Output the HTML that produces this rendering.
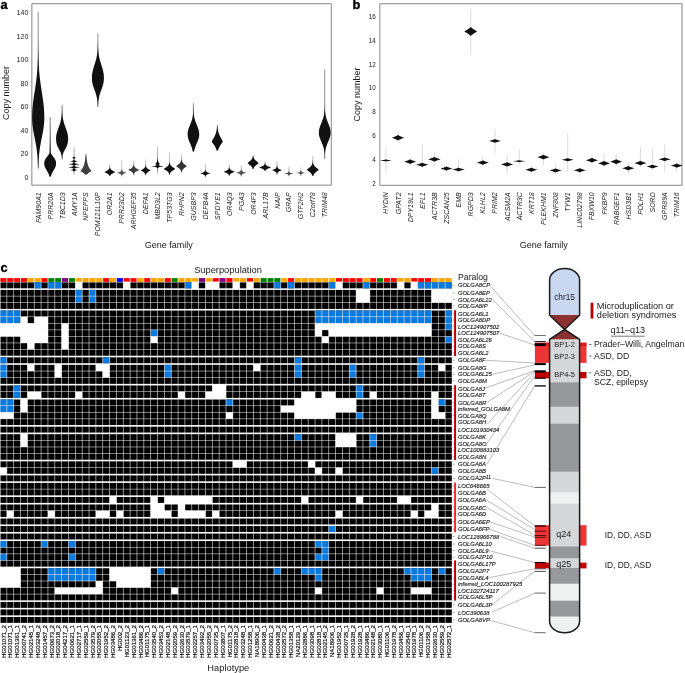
<!DOCTYPE html>
<html><head><meta charset="utf-8"><title>Figure</title>
<style>html,body{margin:0;padding:0;background:#fff}svg{display:block}svg text{font-family:"Liberation Sans",sans-serif}</style>
</head><body>
<svg width="685" height="673" viewBox="0 0 685 673" font-family='"Liberation Sans", sans-serif'>
<rect x="31.9" y="3.8" width="299.3" height="181.3" fill="none" stroke="#555" stroke-width="0.7"/>
<text x="28.3" y="179.8" font-size="7" text-anchor="end" fill="#1a1a1a">0</text>
<text x="28.3" y="156.2" font-size="7" text-anchor="end" fill="#1a1a1a">20</text>
<text x="28.3" y="132.7" font-size="7" text-anchor="end" fill="#1a1a1a">40</text>
<text x="28.3" y="109.2" font-size="7" text-anchor="end" fill="#1a1a1a">60</text>
<text x="28.3" y="85.6" font-size="7" text-anchor="end" fill="#1a1a1a">80</text>
<text x="28.3" y="62.1" font-size="7" text-anchor="end" fill="#1a1a1a">100</text>
<text x="28.3" y="38.5" font-size="7" text-anchor="end" fill="#1a1a1a">120</text>
<text x="28.3" y="15.0" font-size="7" text-anchor="end" fill="#1a1a1a">140</text>
<text transform="translate(9.3,93) rotate(-90)" font-size="9" text-anchor="middle" fill="#1a1a1a">Copy number</text>
<text x="168.8" y="248" font-size="9" text-anchor="middle" fill="#1a1a1a">Gene family</text>
<text x="0.4" y="9.1" font-size="12.8" font-weight="bold" fill="#000" stroke="#000" stroke-width="0.35">a</text>
<line x1="38.20" y1="11.80" x2="38.20" y2="168.60" stroke="#333" stroke-width="0.55"/>
<path d="M38.20 11.80 L38.20 14.41 L38.20 17.03 L38.20 19.64 L38.20 22.25 L38.20 24.87 L38.20 27.48 L38.19 30.09 L38.19 32.71 L38.19 35.32 L38.18 37.93 L38.17 40.55 L38.15 43.16 L38.13 45.77 L38.11 48.39 L38.07 51.00 L38.03 53.61 L37.97 56.23 L37.89 58.84 L37.79 61.45 L37.67 64.07 L37.53 66.68 L37.35 69.29 L37.15 71.91 L36.91 74.52 L36.64 77.13 L36.34 79.75 L36.00 82.36 L35.64 84.97 L35.26 87.59 L34.86 90.20 L34.46 92.81 L34.06 95.43 L33.67 98.04 L33.31 100.65 L32.98 103.27 L32.69 105.88 L32.46 108.49 L32.28 111.11 L32.16 113.72 L32.11 116.33 L32.10 117.70 L32.11 118.95 L32.20 121.56 L32.40 124.17 L32.69 126.79 L33.07 129.40 L33.51 132.01 L34.01 134.63 L34.53 137.24 L35.05 139.85 L35.55 142.47 L36.02 145.08 L36.45 147.69 L36.82 150.31 L37.14 152.92 L37.40 155.53 L37.61 158.15 L37.78 160.76 L37.90 163.37 L37.99 165.99 L38.06 168.60 L38.34 168.60 L38.41 165.99 L38.50 163.37 L38.62 160.76 L38.79 158.15 L39.00 155.53 L39.26 152.92 L39.58 150.31 L39.95 147.69 L40.38 145.08 L40.85 142.47 L41.35 139.85 L41.87 137.24 L42.39 134.63 L42.89 132.01 L43.33 129.40 L43.71 126.79 L44.00 124.17 L44.20 121.56 L44.29 118.95 L44.30 117.70 L44.29 116.33 L44.24 113.72 L44.12 111.11 L43.94 108.49 L43.71 105.88 L43.42 103.27 L43.09 100.65 L42.73 98.04 L42.34 95.43 L41.94 92.81 L41.54 90.20 L41.14 87.59 L40.76 84.97 L40.40 82.36 L40.06 79.75 L39.76 77.13 L39.49 74.52 L39.25 71.91 L39.05 69.29 L38.87 66.68 L38.73 64.07 L38.61 61.45 L38.51 58.84 L38.43 56.23 L38.37 53.61 L38.33 51.00 L38.29 48.39 L38.27 45.77 L38.25 43.16 L38.23 40.55 L38.22 37.93 L38.21 35.32 L38.21 32.71 L38.21 30.09 L38.20 27.48 L38.20 24.87 L38.20 22.25 L38.20 19.64 L38.20 17.03 L38.20 14.41 L38.20 11.80Z" fill="#111" opacity="1.00"/>
<text transform="translate(40.70,192.3) rotate(-90)" font-size="7" font-style="italic" text-anchor="end" fill="#1a1a1a">FAM90A1</text>
<line x1="50.14" y1="117.10" x2="50.14" y2="176.60" stroke="#333" stroke-width="0.55"/>
<path d="M50.10 117.10 L50.09 118.09 L50.09 119.08 L50.08 120.07 L50.08 121.07 L50.08 122.06 L50.07 123.05 L50.07 124.04 L50.06 125.03 L50.05 126.02 L50.05 127.02 L50.04 128.01 L50.03 129.00 L50.03 129.99 L50.02 130.98 L50.01 131.97 L50.00 132.97 L49.99 133.96 L49.98 134.95 L49.97 135.94 L49.95 136.93 L49.94 137.92 L49.93 138.92 L49.91 139.91 L49.89 140.90 L49.88 141.89 L49.86 142.88 L49.84 143.88 L49.81 144.87 L49.79 145.86 L49.76 146.85 L49.74 147.84 L49.71 148.83 L49.67 149.82 L49.64 150.82 L49.60 151.81 L49.56 152.80 L49.14 153.79 L48.55 154.78 L47.84 155.77 L47.05 156.77 L46.26 157.76 L45.57 158.75 L45.01 159.74 L44.61 160.73 L44.38 161.72 L44.27 162.72 L44.24 163.71 L44.24 164.20 L44.27 164.70 L44.46 165.69 L44.79 166.68 L45.25 167.68 L45.77 168.67 L46.34 169.66 L46.92 170.65 L47.47 171.64 L47.99 172.63 L48.44 173.62 L48.83 174.62 L49.15 175.61 L49.41 176.60 L50.87 176.60 L51.13 175.61 L51.45 174.62 L51.84 173.62 L52.29 172.63 L52.81 171.64 L53.36 170.65 L53.94 169.66 L54.51 168.67 L55.03 167.68 L55.49 166.68 L55.82 165.69 L56.01 164.70 L56.04 164.20 L56.04 163.71 L56.01 162.72 L55.90 161.72 L55.67 160.73 L55.27 159.74 L54.71 158.75 L54.02 157.76 L53.23 156.77 L52.44 155.77 L51.73 154.78 L51.14 153.79 L50.72 152.80 L50.68 151.81 L50.64 150.82 L50.61 149.82 L50.57 148.83 L50.54 147.84 L50.52 146.85 L50.49 145.86 L50.47 144.87 L50.44 143.88 L50.42 142.88 L50.40 141.89 L50.39 140.90 L50.37 139.91 L50.35 138.92 L50.34 137.92 L50.33 136.93 L50.31 135.94 L50.30 134.95 L50.29 133.96 L50.28 132.97 L50.27 131.97 L50.26 130.98 L50.25 129.99 L50.25 129.00 L50.24 128.01 L50.23 127.02 L50.23 126.02 L50.22 125.03 L50.21 124.04 L50.21 123.05 L50.20 122.06 L50.20 121.07 L50.20 120.07 L50.19 119.08 L50.19 118.09 L50.18 117.10Z" fill="#111" opacity="1.00"/>
<text transform="translate(52.64,192.3) rotate(-90)" font-size="7" font-style="italic" text-anchor="end" fill="#1a1a1a">PRR20A</text>
<line x1="62.08" y1="104.80" x2="62.08" y2="159.40" stroke="#333" stroke-width="0.55"/>
<path d="M62.06 104.80 L62.05 105.71 L62.04 106.62 L62.03 107.53 L62.01 108.44 L61.99 109.35 L61.96 110.26 L61.92 111.17 L61.88 112.08 L61.83 112.99 L61.76 113.90 L61.68 114.81 L61.59 115.72 L61.48 116.63 L61.36 117.54 L61.21 118.45 L61.04 119.36 L60.85 120.27 L60.64 121.18 L60.40 122.09 L60.15 123.00 L59.87 123.91 L59.57 124.82 L59.26 125.73 L58.94 126.64 L58.61 127.55 L58.27 128.46 L57.94 129.37 L57.62 130.28 L57.31 131.19 L57.03 132.10 L56.77 133.01 L56.55 133.92 L56.36 134.83 L56.22 135.74 L56.13 136.65 L56.08 137.56 L56.08 137.90 L56.08 138.47 L56.09 139.38 L56.12 140.29 L56.18 141.20 L56.28 142.11 L56.44 143.02 L56.65 143.93 L56.93 144.84 L57.27 145.75 L57.66 146.66 L58.10 147.57 L58.58 148.48 L59.07 149.39 L59.56 150.30 L60.03 151.21 L60.46 152.12 L60.84 153.03 L61.16 153.94 L61.43 154.85 L61.63 155.76 L61.78 156.67 L61.89 157.58 L61.97 158.49 L62.01 159.40 L62.15 159.40 L62.19 158.49 L62.27 157.58 L62.38 156.67 L62.53 155.76 L62.73 154.85 L63.00 153.94 L63.32 153.03 L63.70 152.12 L64.13 151.21 L64.60 150.30 L65.09 149.39 L65.58 148.48 L66.06 147.57 L66.50 146.66 L66.89 145.75 L67.23 144.84 L67.51 143.93 L67.72 143.02 L67.88 142.11 L67.98 141.20 L68.04 140.29 L68.07 139.38 L68.08 138.47 L68.08 137.90 L68.08 137.56 L68.03 136.65 L67.94 135.74 L67.80 134.83 L67.61 133.92 L67.39 133.01 L67.13 132.10 L66.85 131.19 L66.54 130.28 L66.22 129.37 L65.89 128.46 L65.55 127.55 L65.22 126.64 L64.90 125.73 L64.59 124.82 L64.29 123.91 L64.01 123.00 L63.76 122.09 L63.52 121.18 L63.31 120.27 L63.12 119.36 L62.95 118.45 L62.80 117.54 L62.68 116.63 L62.57 115.72 L62.48 114.81 L62.40 113.90 L62.33 112.99 L62.28 112.08 L62.24 111.17 L62.20 110.26 L62.17 109.35 L62.15 108.44 L62.13 107.53 L62.12 106.62 L62.11 105.71 L62.10 104.80Z" fill="#111" opacity="1.00"/>
<text transform="translate(64.58,192.3) rotate(-90)" font-size="7" font-style="italic" text-anchor="end" fill="#1a1a1a">TBC1D3</text>
<line x1="74.02" y1="146.90" x2="74.02" y2="174.40" stroke="#777" stroke-width="0.42"/>
<path d="M74.00 146.90 L74.00 147.36 L73.99 147.82 L73.99 148.28 L73.99 148.73 L73.99 149.19 L73.98 149.65 L73.98 150.11 L73.98 150.57 L73.98 151.03 L73.97 151.48 L73.97 151.94 L73.96 152.40 L73.96 152.86 L73.96 153.32 L73.95 153.78 L73.94 154.23 L73.94 154.69 L73.93 155.15 L73.93 155.61 L73.92 156.07 L73.91 156.53 L73.90 156.98 L73.89 157.44 L73.88 157.90 L73.87 158.36 L73.86 158.82 L73.85 159.28 L73.83 159.73 L73.82 160.19 L73.80 160.65 L73.78 161.11 L73.76 161.57 L73.74 162.03 L73.72 162.48 L73.70 162.94 L73.67 163.40 L73.65 163.86 L73.62 164.32 L73.58 164.78 L73.55 165.23 L73.52 165.60 L73.53 165.69 L73.58 166.15 L73.63 166.61 L73.67 167.07 L73.71 167.53 L73.74 167.98 L73.77 168.44 L73.80 168.90 L73.82 169.36 L73.85 169.82 L73.86 170.28 L73.88 170.73 L73.90 171.19 L73.91 171.65 L73.92 172.11 L73.93 172.57 L73.94 173.03 L73.95 173.48 L73.96 173.94 L73.96 174.40 L74.08 174.40 L74.08 173.94 L74.09 173.48 L74.10 173.03 L74.11 172.57 L74.12 172.11 L74.13 171.65 L74.14 171.19 L74.16 170.73 L74.18 170.28 L74.19 169.82 L74.22 169.36 L74.24 168.90 L74.27 168.44 L74.30 167.98 L74.33 167.53 L74.37 167.07 L74.41 166.61 L74.46 166.15 L74.51 165.69 L74.52 165.60 L74.49 165.23 L74.46 164.78 L74.42 164.32 L74.39 163.86 L74.37 163.40 L74.34 162.94 L74.32 162.48 L74.30 162.03 L74.28 161.57 L74.26 161.11 L74.24 160.65 L74.22 160.19 L74.21 159.73 L74.19 159.28 L74.18 158.82 L74.17 158.36 L74.16 157.90 L74.15 157.44 L74.14 156.98 L74.13 156.53 L74.12 156.07 L74.11 155.61 L74.11 155.15 L74.10 154.69 L74.10 154.23 L74.09 153.78 L74.08 153.32 L74.08 152.86 L74.08 152.40 L74.07 151.94 L74.07 151.48 L74.06 151.03 L74.06 150.57 L74.06 150.11 L74.06 149.65 L74.05 149.19 L74.05 148.73 L74.05 148.28 L74.05 147.82 L74.04 147.36 L74.04 146.90Z" fill="#111" opacity="1.00"/>
<path d="M73.82 156.50 L73.75 156.68 L73.66 156.85 L73.53 157.03 L73.37 157.20 L73.14 157.38 L72.85 157.55 L72.45 157.72 L71.92 157.90 L72.45 158.08 L72.85 158.25 L73.14 158.43 L73.37 158.60 L73.53 158.78 L73.66 158.95 L73.75 159.12 L73.82 159.30 L74.22 159.30 L74.29 159.12 L74.38 158.95 L74.51 158.78 L74.67 158.60 L74.90 158.43 L75.19 158.25 L75.59 158.08 L76.12 157.90 L75.59 157.72 L75.19 157.55 L74.90 157.38 L74.67 157.20 L74.51 157.03 L74.38 156.85 L74.29 156.68 L74.22 156.50Z" fill="#111" opacity="1.00"/>
<path d="M73.66 159.90 L73.54 160.08 L73.38 160.25 L73.16 160.43 L72.87 160.60 L72.48 160.78 L71.96 160.95 L71.26 161.12 L70.32 161.30 L71.26 161.48 L71.96 161.65 L72.48 161.83 L72.87 162.00 L73.16 162.18 L73.38 162.35 L73.54 162.53 L73.66 162.70 L74.38 162.70 L74.50 162.53 L74.66 162.35 L74.88 162.18 L75.17 162.00 L75.56 161.83 L76.08 161.65 L76.78 161.48 L77.72 161.30 L76.78 161.12 L76.08 160.95 L75.56 160.78 L75.17 160.60 L74.88 160.43 L74.66 160.25 L74.50 160.08 L74.38 159.90Z" fill="#111" opacity="1.00"/>
<path d="M73.49 162.80 L73.31 162.97 L73.06 163.15 L72.74 163.32 L72.31 163.50 L71.73 163.67 L70.95 163.85 L69.91 164.02 L68.52 164.20 L69.91 164.38 L70.95 164.55 L71.73 164.72 L72.31 164.90 L72.74 165.07 L73.06 165.25 L73.31 165.42 L73.49 165.60 L74.55 165.60 L74.73 165.42 L74.98 165.25 L75.30 165.07 L75.73 164.90 L76.31 164.72 L77.09 164.55 L78.13 164.38 L79.52 164.20 L78.13 164.02 L77.09 163.85 L76.31 163.67 L75.73 163.50 L75.30 163.32 L74.98 163.15 L74.73 162.97 L74.55 162.80Z" fill="#111" opacity="1.00"/>
<path d="M73.46 165.90 L73.27 166.08 L73.01 166.25 L72.67 166.43 L72.21 166.60 L71.60 166.78 L70.78 166.95 L69.69 167.12 L68.22 167.30 L69.69 167.48 L70.78 167.65 L71.60 167.83 L72.21 168.00 L72.67 168.18 L73.01 168.35 L73.27 168.53 L73.46 168.70 L74.58 168.70 L74.77 168.53 L75.03 168.35 L75.37 168.18 L75.83 168.00 L76.44 167.83 L77.26 167.65 L78.35 167.48 L79.82 167.30 L78.35 167.12 L77.26 166.95 L76.44 166.78 L75.83 166.60 L75.37 166.43 L75.03 166.25 L74.77 166.08 L74.58 165.90Z" fill="#111" opacity="1.00"/>
<path d="M73.66 168.60 L73.54 168.78 L73.38 168.95 L73.16 169.12 L72.87 169.30 L72.48 169.47 L71.96 169.65 L71.26 169.82 L70.32 170.00 L71.26 170.18 L71.96 170.35 L72.48 170.53 L72.87 170.70 L73.16 170.88 L73.38 171.05 L73.54 171.22 L73.66 171.40 L74.38 171.40 L74.50 171.22 L74.66 171.05 L74.88 170.88 L75.17 170.70 L75.56 170.53 L76.08 170.35 L76.78 170.18 L77.72 170.00 L76.78 169.82 L76.08 169.65 L75.56 169.47 L75.17 169.30 L74.88 169.12 L74.66 168.95 L74.50 168.78 L74.38 168.60Z" fill="#111" opacity="1.00"/>
<text transform="translate(76.52,192.3) rotate(-90)" font-size="7" font-style="italic" text-anchor="end" fill="#1a1a1a">AMY1A</text>
<line x1="85.96" y1="154.30" x2="85.96" y2="174.60" stroke="#777" stroke-width="0.42"/>
<path d="M85.62 154.30 L85.60 154.64 L85.58 154.98 L85.56 155.31 L85.53 155.65 L85.51 155.99 L85.48 156.33 L85.45 156.67 L85.42 157.01 L85.39 157.34 L85.36 157.68 L85.33 158.02 L85.29 158.36 L85.25 158.70 L85.21 159.04 L85.17 159.38 L85.12 159.71 L85.07 160.05 L85.02 160.39 L84.96 160.73 L84.91 161.07 L84.85 161.41 L84.78 161.74 L84.71 162.08 L84.64 162.42 L84.56 162.76 L84.48 163.10 L84.40 163.44 L84.31 163.77 L84.21 164.11 L84.11 164.45 L84.00 164.79 L83.89 165.13 L83.77 165.47 L83.64 165.80 L83.51 166.14 L83.36 166.48 L83.21 166.82 L83.05 167.16 L82.89 167.50 L82.71 167.83 L82.52 168.17 L82.32 168.51 L82.11 168.85 L81.88 169.19 L81.65 169.53 L81.40 169.86 L81.13 170.20 L80.85 170.54 L80.56 170.88 L80.26 171.20 L80.30 171.22 L81.11 171.56 L81.80 171.89 L82.39 172.23 L82.90 172.57 L83.34 172.91 L83.71 173.25 L84.03 173.58 L84.31 173.92 L84.54 174.26 L84.74 174.60 L87.18 174.60 L87.38 174.26 L87.61 173.92 L87.89 173.58 L88.21 173.25 L88.58 172.91 L89.02 172.57 L89.53 172.23 L90.12 171.89 L90.81 171.56 L91.62 171.22 L91.66 171.20 L91.36 170.88 L91.07 170.54 L90.79 170.20 L90.52 169.86 L90.27 169.53 L90.04 169.19 L89.81 168.85 L89.60 168.51 L89.40 168.17 L89.21 167.83 L89.03 167.50 L88.87 167.16 L88.71 166.82 L88.56 166.48 L88.41 166.14 L88.28 165.80 L88.15 165.47 L88.03 165.13 L87.92 164.79 L87.81 164.45 L87.71 164.11 L87.61 163.77 L87.52 163.44 L87.44 163.10 L87.36 162.76 L87.28 162.42 L87.21 162.08 L87.14 161.74 L87.07 161.41 L87.01 161.07 L86.96 160.73 L86.90 160.39 L86.85 160.05 L86.80 159.71 L86.75 159.38 L86.71 159.04 L86.67 158.70 L86.63 158.36 L86.59 158.02 L86.56 157.68 L86.53 157.34 L86.50 157.01 L86.47 156.67 L86.44 156.33 L86.41 155.99 L86.39 155.65 L86.36 155.31 L86.34 154.98 L86.32 154.64 L86.30 154.30Z" fill="#111" opacity="0.80"/>
<text transform="translate(88.46,192.3) rotate(-90)" font-size="7" font-style="italic" text-anchor="end" fill="#1a1a1a">NPEPPS</text>
<line x1="97.90" y1="33.30" x2="97.90" y2="107.10" stroke="#333" stroke-width="0.55"/>
<path d="M97.90 33.30 L97.90 34.53 L97.90 35.76 L97.89 36.99 L97.89 38.22 L97.88 39.45 L97.87 40.68 L97.86 41.91 L97.85 43.14 L97.82 44.37 L97.79 45.60 L97.75 46.83 L97.69 48.06 L97.62 49.29 L97.53 50.52 L97.42 51.75 L97.28 52.98 L97.12 54.21 L96.92 55.44 L96.69 56.67 L96.43 57.90 L96.14 59.13 L95.81 60.36 L95.47 61.59 L95.10 62.82 L94.71 64.05 L94.32 65.28 L93.94 66.51 L93.56 67.74 L93.20 68.97 L92.88 70.20 L92.59 71.43 L92.35 72.66 L92.16 73.89 L92.02 75.12 L91.94 76.35 L91.90 77.58 L91.90 78.10 L91.91 78.81 L91.96 80.04 L92.09 81.27 L92.28 82.50 L92.54 83.73 L92.86 84.96 L93.23 86.19 L93.63 87.42 L94.07 88.65 L94.51 89.88 L94.95 91.11 L95.38 92.34 L95.78 93.57 L96.15 94.80 L96.48 96.03 L96.76 97.26 L97.01 98.49 L97.22 99.72 L97.38 100.95 L97.52 102.18 L97.62 103.41 L97.70 104.64 L97.76 105.87 L97.80 107.10 L98.00 107.10 L98.04 105.87 L98.10 104.64 L98.18 103.41 L98.28 102.18 L98.42 100.95 L98.58 99.72 L98.79 98.49 L99.04 97.26 L99.32 96.03 L99.65 94.80 L100.02 93.57 L100.42 92.34 L100.85 91.11 L101.29 89.88 L101.73 88.65 L102.17 87.42 L102.57 86.19 L102.94 84.96 L103.26 83.73 L103.52 82.50 L103.71 81.27 L103.84 80.04 L103.89 78.81 L103.90 78.10 L103.90 77.58 L103.86 76.35 L103.78 75.12 L103.64 73.89 L103.45 72.66 L103.21 71.43 L102.92 70.20 L102.60 68.97 L102.24 67.74 L101.86 66.51 L101.48 65.28 L101.09 64.05 L100.70 62.82 L100.33 61.59 L99.99 60.36 L99.66 59.13 L99.37 57.90 L99.11 56.67 L98.88 55.44 L98.68 54.21 L98.52 52.98 L98.38 51.75 L98.27 50.52 L98.18 49.29 L98.11 48.06 L98.05 46.83 L98.01 45.60 L97.98 44.37 L97.95 43.14 L97.94 41.91 L97.93 40.68 L97.92 39.45 L97.91 38.22 L97.91 36.99 L97.90 35.76 L97.90 34.53 L97.90 33.30Z" fill="#111" opacity="1.00"/>
<text transform="translate(100.40,192.3) rotate(-90)" font-size="7" font-style="italic" text-anchor="end" fill="#1a1a1a">POM121L10P</text>
<line x1="109.84" y1="163.90" x2="109.84" y2="176.10" stroke="#777" stroke-width="0.42"/>
<path d="M109.84 163.90 L109.83 164.10 L109.83 164.31 L109.83 164.51 L109.83 164.71 L109.83 164.92 L109.82 165.12 L109.82 165.32 L109.81 165.53 L109.81 165.73 L109.80 165.93 L109.79 166.14 L109.77 166.34 L109.76 166.54 L109.74 166.75 L109.72 166.95 L109.69 167.15 L109.65 167.36 L109.61 167.56 L109.56 167.76 L109.51 167.97 L109.44 168.17 L109.35 168.37 L109.26 168.58 L109.15 168.78 L109.02 168.98 L108.87 169.19 L108.69 169.39 L108.50 169.59 L108.27 169.80 L108.02 170.00 L107.75 170.20 L107.44 170.41 L107.11 170.61 L106.75 170.81 L106.37 171.02 L105.98 171.22 L105.58 171.42 L105.20 171.63 L104.85 171.83 L104.59 172.03 L104.54 172.10 L104.68 172.24 L105.03 172.44 L105.44 172.64 L105.88 172.85 L106.32 173.05 L106.74 173.25 L107.14 173.46 L107.50 173.66 L107.83 173.86 L108.13 174.07 L108.39 174.27 L108.62 174.47 L108.82 174.68 L109.00 174.88 L109.14 175.08 L109.27 175.29 L109.37 175.49 L109.46 175.69 L109.53 175.90 L109.59 176.10 L110.09 176.10 L110.15 175.90 L110.22 175.69 L110.31 175.49 L110.41 175.29 L110.54 175.08 L110.68 174.88 L110.86 174.68 L111.06 174.47 L111.29 174.27 L111.55 174.07 L111.85 173.86 L112.18 173.66 L112.54 173.46 L112.94 173.25 L113.36 173.05 L113.80 172.85 L114.24 172.64 L114.65 172.44 L115.00 172.24 L115.14 172.10 L115.09 172.03 L114.83 171.83 L114.48 171.63 L114.10 171.42 L113.70 171.22 L113.31 171.02 L112.93 170.81 L112.57 170.61 L112.24 170.41 L111.93 170.20 L111.66 170.00 L111.41 169.80 L111.18 169.59 L110.99 169.39 L110.81 169.19 L110.66 168.98 L110.53 168.78 L110.42 168.58 L110.33 168.37 L110.24 168.17 L110.17 167.97 L110.12 167.76 L110.07 167.56 L110.03 167.36 L109.99 167.15 L109.96 166.95 L109.94 166.75 L109.92 166.54 L109.91 166.34 L109.89 166.14 L109.88 165.93 L109.87 165.73 L109.87 165.53 L109.86 165.32 L109.86 165.12 L109.85 164.92 L109.85 164.71 L109.85 164.51 L109.85 164.31 L109.85 164.10 L109.84 163.90Z" fill="#111" opacity="1.00"/>
<text transform="translate(112.34,192.3) rotate(-90)" font-size="7" font-style="italic" text-anchor="end" fill="#1a1a1a">OR2A1</text>
<line x1="121.78" y1="160.30" x2="121.78" y2="176.60" stroke="#777" stroke-width="0.42"/>
<path d="M121.78 160.30 L121.78 160.57 L121.78 160.84 L121.78 161.12 L121.78 161.39 L121.78 161.66 L121.78 161.93 L121.78 162.20 L121.78 162.47 L121.78 162.75 L121.78 163.02 L121.78 163.29 L121.78 163.56 L121.78 163.83 L121.78 164.10 L121.78 164.38 L121.78 164.65 L121.78 164.92 L121.78 165.19 L121.78 165.46 L121.78 165.73 L121.78 166.00 L121.78 166.28 L121.78 166.55 L121.78 166.82 L121.77 167.09 L121.77 167.36 L121.77 167.63 L121.76 167.91 L121.75 168.18 L121.74 168.45 L121.72 168.72 L121.70 168.99 L121.67 169.27 L121.63 169.54 L121.57 169.81 L121.48 170.08 L121.37 170.35 L121.22 170.62 L121.03 170.90 L120.77 171.17 L120.43 171.44 L120.00 171.71 L119.46 171.98 L118.80 172.25 L118.03 172.53 L117.23 172.80 L116.98 172.90 L117.51 173.07 L118.48 173.34 L119.31 173.61 L119.98 173.88 L120.49 174.16 L120.87 174.43 L121.14 174.70 L121.34 174.97 L121.48 175.24 L121.58 175.51 L121.64 175.78 L121.69 176.06 L121.72 176.33 L121.74 176.60 L121.82 176.60 L121.84 176.33 L121.87 176.06 L121.92 175.78 L121.98 175.51 L122.08 175.24 L122.22 174.97 L122.42 174.70 L122.69 174.43 L123.07 174.16 L123.58 173.88 L124.25 173.61 L125.08 173.34 L126.05 173.07 L126.58 172.90 L126.33 172.80 L125.53 172.53 L124.76 172.25 L124.10 171.98 L123.56 171.71 L123.13 171.44 L122.79 171.17 L122.53 170.90 L122.34 170.62 L122.19 170.35 L122.08 170.08 L121.99 169.81 L121.93 169.54 L121.89 169.27 L121.86 168.99 L121.84 168.72 L121.82 168.45 L121.81 168.18 L121.80 167.91 L121.79 167.63 L121.79 167.36 L121.79 167.09 L121.78 166.82 L121.78 166.55 L121.78 166.28 L121.78 166.00 L121.78 165.73 L121.78 165.46 L121.78 165.19 L121.78 164.92 L121.78 164.65 L121.78 164.38 L121.78 164.10 L121.78 163.83 L121.78 163.56 L121.78 163.29 L121.78 163.02 L121.78 162.75 L121.78 162.47 L121.78 162.20 L121.78 161.93 L121.78 161.66 L121.78 161.39 L121.78 161.12 L121.78 160.84 L121.78 160.57 L121.78 160.30Z" fill="#111" opacity="0.70"/>
<text transform="translate(124.28,192.3) rotate(-90)" font-size="7" font-style="italic" text-anchor="end" fill="#1a1a1a">PRR23D2</text>
<line x1="133.72" y1="160.30" x2="133.72" y2="175.00" stroke="#777" stroke-width="0.42"/>
<path d="M133.72 160.30 L133.72 160.55 L133.72 160.79 L133.72 161.04 L133.71 161.28 L133.71 161.53 L133.71 161.77 L133.71 162.02 L133.70 162.26 L133.70 162.50 L133.69 162.75 L133.69 163.00 L133.68 163.24 L133.67 163.49 L133.65 163.73 L133.63 163.98 L133.61 164.22 L133.58 164.47 L133.55 164.71 L133.50 164.96 L133.45 165.20 L133.39 165.44 L133.31 165.69 L133.22 165.94 L133.11 166.18 L132.98 166.43 L132.83 166.67 L132.66 166.92 L132.45 167.16 L132.22 167.41 L131.95 167.65 L131.65 167.90 L131.32 168.14 L130.95 168.38 L130.55 168.63 L130.14 168.88 L129.70 169.12 L129.27 169.37 L128.87 169.61 L128.54 169.85 L128.42 170.00 L128.51 170.10 L128.88 170.34 L129.36 170.59 L129.86 170.84 L130.35 171.08 L130.82 171.33 L131.26 171.57 L131.65 171.81 L131.99 172.06 L132.29 172.31 L132.55 172.55 L132.77 172.79 L132.95 173.04 L133.10 173.28 L133.23 173.53 L133.33 173.78 L133.42 174.02 L133.48 174.27 L133.53 174.51 L133.58 174.75 L133.61 175.00 L133.83 175.00 L133.86 174.75 L133.91 174.51 L133.96 174.27 L134.02 174.02 L134.11 173.78 L134.21 173.53 L134.34 173.28 L134.49 173.04 L134.67 172.79 L134.89 172.55 L135.15 172.31 L135.45 172.06 L135.79 171.81 L136.18 171.57 L136.62 171.33 L137.09 171.08 L137.58 170.84 L138.08 170.59 L138.56 170.34 L138.93 170.10 L139.02 170.00 L138.90 169.85 L138.57 169.61 L138.17 169.37 L137.74 169.12 L137.30 168.88 L136.89 168.63 L136.49 168.38 L136.12 168.14 L135.79 167.90 L135.49 167.65 L135.22 167.41 L134.99 167.16 L134.78 166.92 L134.61 166.67 L134.46 166.43 L134.33 166.18 L134.22 165.94 L134.13 165.69 L134.05 165.44 L133.99 165.20 L133.94 164.96 L133.89 164.71 L133.86 164.47 L133.83 164.22 L133.81 163.98 L133.79 163.73 L133.77 163.49 L133.76 163.24 L133.75 163.00 L133.75 162.75 L133.74 162.50 L133.74 162.26 L133.73 162.02 L133.73 161.77 L133.73 161.53 L133.73 161.28 L133.72 161.04 L133.72 160.79 L133.72 160.55 L133.72 160.30Z" fill="#111" opacity="0.80"/>
<text transform="translate(136.22,192.3) rotate(-90)" font-size="7" font-style="italic" text-anchor="end" fill="#1a1a1a">ARHGEF35</text>
<line x1="145.66" y1="159.30" x2="145.66" y2="175.00" stroke="#777" stroke-width="0.42"/>
<path d="M145.66 159.30 L145.66 159.56 L145.66 159.82 L145.66 160.09 L145.66 160.35 L145.66 160.61 L145.66 160.87 L145.66 161.13 L145.66 161.39 L145.66 161.66 L145.66 161.92 L145.66 162.18 L145.65 162.44 L145.65 162.70 L145.65 162.96 L145.64 163.23 L145.64 163.49 L145.63 163.75 L145.62 164.01 L145.61 164.27 L145.60 164.53 L145.58 164.80 L145.55 165.06 L145.52 165.32 L145.48 165.58 L145.43 165.84 L145.37 166.10 L145.30 166.37 L145.21 166.63 L145.09 166.89 L144.96 167.15 L144.80 167.41 L144.61 167.67 L144.38 167.94 L144.12 168.20 L143.82 168.46 L143.49 168.72 L143.12 168.98 L142.71 169.24 L142.28 169.50 L141.84 169.77 L141.42 170.03 L141.05 170.29 L140.86 170.50 L140.89 170.55 L141.23 170.81 L141.68 171.08 L142.16 171.34 L142.64 171.60 L143.09 171.86 L143.51 172.12 L143.87 172.38 L144.19 172.65 L144.47 172.91 L144.70 173.17 L144.89 173.43 L145.05 173.69 L145.18 173.95 L145.29 174.22 L145.37 174.48 L145.44 174.74 L145.49 175.00 L145.83 175.00 L145.88 174.74 L145.95 174.48 L146.03 174.22 L146.14 173.95 L146.27 173.69 L146.43 173.43 L146.62 173.17 L146.85 172.91 L147.13 172.65 L147.45 172.38 L147.81 172.12 L148.23 171.86 L148.68 171.60 L149.16 171.34 L149.64 171.08 L150.09 170.81 L150.43 170.55 L150.46 170.50 L150.27 170.29 L149.90 170.03 L149.48 169.77 L149.04 169.50 L148.61 169.24 L148.20 168.98 L147.83 168.72 L147.50 168.46 L147.20 168.20 L146.94 167.94 L146.71 167.67 L146.52 167.41 L146.36 167.15 L146.23 166.89 L146.11 166.63 L146.02 166.37 L145.95 166.10 L145.89 165.84 L145.84 165.58 L145.80 165.32 L145.77 165.06 L145.74 164.80 L145.72 164.53 L145.71 164.27 L145.70 164.01 L145.69 163.75 L145.68 163.49 L145.68 163.23 L145.67 162.96 L145.67 162.70 L145.67 162.44 L145.66 162.18 L145.66 161.92 L145.66 161.66 L145.66 161.39 L145.66 161.13 L145.66 160.87 L145.66 160.61 L145.66 160.35 L145.66 160.09 L145.66 159.82 L145.66 159.56 L145.66 159.30Z" fill="#111" opacity="1.00"/>
<text transform="translate(148.16,192.3) rotate(-90)" font-size="7" font-style="italic" text-anchor="end" fill="#1a1a1a">DEFA1</text>
<line x1="157.60" y1="146.90" x2="157.60" y2="173.80" stroke="#777" stroke-width="0.42"/>
<path d="M157.58 146.90 L157.58 147.35 L157.58 147.80 L157.57 148.25 L157.57 148.69 L157.57 149.14 L157.57 149.59 L157.57 150.04 L157.56 150.49 L157.56 150.94 L157.56 151.38 L157.55 151.83 L157.55 152.28 L157.55 152.73 L157.54 153.18 L157.54 153.62 L157.53 154.07 L157.53 154.52 L157.52 154.97 L157.52 155.42 L157.51 155.87 L157.50 156.31 L157.50 156.76 L157.49 157.21 L157.48 157.66 L157.47 158.11 L157.46 158.56 L157.45 159.00 L157.44 159.45 L157.42 159.90 L157.41 160.35 L157.40 160.80 L157.38 161.25 L157.36 161.69 L157.35 162.14 L157.33 162.59 L157.30 163.04 L157.28 163.49 L157.26 163.94 L157.23 164.38 L157.20 164.83 L157.17 165.28 L157.14 165.73 L157.10 166.18 L157.10 166.20 L157.17 166.63 L157.23 167.07 L157.28 167.52 L157.32 167.97 L157.36 168.42 L157.39 168.87 L157.42 169.32 L157.45 169.76 L157.47 170.21 L157.49 170.66 L157.50 171.11 L157.52 171.56 L157.53 172.01 L157.54 172.45 L157.55 172.90 L157.55 173.35 L157.56 173.80 L157.64 173.80 L157.65 173.35 L157.65 172.90 L157.66 172.45 L157.67 172.01 L157.68 171.56 L157.70 171.11 L157.71 170.66 L157.73 170.21 L157.75 169.76 L157.78 169.32 L157.81 168.87 L157.84 168.42 L157.88 167.97 L157.92 167.52 L157.97 167.07 L158.03 166.63 L158.10 166.20 L158.10 166.18 L158.06 165.73 L158.03 165.28 L158.00 164.83 L157.97 164.38 L157.94 163.94 L157.92 163.49 L157.90 163.04 L157.87 162.59 L157.85 162.14 L157.84 161.69 L157.82 161.25 L157.80 160.80 L157.79 160.35 L157.78 159.90 L157.76 159.45 L157.75 159.00 L157.74 158.56 L157.73 158.11 L157.72 157.66 L157.71 157.21 L157.70 156.76 L157.70 156.31 L157.69 155.87 L157.68 155.42 L157.68 154.97 L157.67 154.52 L157.67 154.07 L157.66 153.62 L157.66 153.18 L157.65 152.73 L157.65 152.28 L157.65 151.83 L157.64 151.38 L157.64 150.94 L157.64 150.49 L157.63 150.04 L157.63 149.59 L157.63 149.14 L157.63 148.69 L157.63 148.25 L157.62 147.80 L157.62 147.35 L157.62 146.90Z" fill="#111" opacity="1.00"/>
<path d="M157.07 164.70 L156.88 164.90 L156.62 165.10 L156.27 165.30 L155.79 165.50 L155.14 165.70 L154.25 165.90 L153.04 166.10 L151.40 166.30 L153.04 166.50 L154.25 166.70 L155.14 166.90 L155.79 167.10 L156.27 167.30 L156.62 167.50 L156.88 167.70 L157.07 167.90 L158.13 167.90 L158.32 167.70 L158.58 167.50 L158.93 167.30 L159.41 167.10 L160.06 166.90 L160.95 166.70 L162.16 166.50 L163.80 166.30 L162.16 166.10 L160.95 165.90 L160.06 165.70 L159.41 165.50 L158.93 165.30 L158.58 165.10 L158.32 164.90 L158.13 164.70Z" fill="#111" opacity="1.00"/>
<path d="M157.51 158.60 L157.48 159.07 L157.43 159.55 L157.36 160.03 L157.27 160.50 L157.15 160.97 L156.99 161.45 L156.78 161.92 L156.52 162.40 L156.19 162.88 L155.82 163.35 L155.44 163.82 L155.40 163.90 L155.81 164.30 L156.30 164.77 L156.69 165.25 L156.98 165.72 L157.19 166.20 L158.01 166.20 L158.22 165.72 L158.51 165.25 L158.90 164.77 L159.39 164.30 L159.80 163.90 L159.76 163.82 L159.38 163.35 L159.01 162.88 L158.68 162.40 L158.42 161.92 L158.21 161.45 L158.05 160.97 L157.93 160.50 L157.84 160.03 L157.77 159.55 L157.72 159.07 L157.69 158.60Z" fill="#111" opacity="1.00"/>
<text transform="translate(160.10,192.3) rotate(-90)" font-size="7" font-style="italic" text-anchor="end" fill="#1a1a1a">MBD3L2</text>
<line x1="169.54" y1="152.60" x2="169.54" y2="175.00" stroke="#777" stroke-width="0.42"/>
<path d="M169.54 152.60 L169.54 152.97 L169.54 153.35 L169.54 153.72 L169.54 154.09 L169.54 154.47 L169.54 154.84 L169.54 155.21 L169.54 155.59 L169.54 155.96 L169.54 156.33 L169.54 156.71 L169.54 157.08 L169.54 157.45 L169.54 157.83 L169.54 158.20 L169.53 158.57 L169.53 158.95 L169.53 159.32 L169.52 159.69 L169.52 160.07 L169.51 160.44 L169.50 160.81 L169.48 161.19 L169.46 161.56 L169.43 161.93 L169.40 162.31 L169.35 162.68 L169.29 163.05 L169.21 163.43 L169.10 163.80 L168.97 164.17 L168.81 164.55 L168.61 164.92 L168.37 165.29 L168.07 165.67 L167.72 166.04 L167.31 166.41 L166.84 166.79 L166.32 167.16 L165.74 167.53 L165.14 167.91 L164.56 168.28 L164.05 168.65 L163.84 168.90 L163.93 169.03 L164.44 169.40 L165.07 169.77 L165.72 170.15 L166.34 170.52 L166.90 170.89 L167.40 171.27 L167.83 171.64 L168.19 172.01 L168.48 172.39 L168.72 172.76 L168.92 173.13 L169.07 173.51 L169.19 173.88 L169.28 174.25 L169.35 174.63 L169.40 175.00 L169.68 175.00 L169.73 174.63 L169.80 174.25 L169.89 173.88 L170.01 173.51 L170.16 173.13 L170.36 172.76 L170.60 172.39 L170.89 172.01 L171.25 171.64 L171.68 171.27 L172.18 170.89 L172.74 170.52 L173.36 170.15 L174.01 169.77 L174.64 169.40 L175.15 169.03 L175.24 168.90 L175.03 168.65 L174.52 168.28 L173.94 167.91 L173.34 167.53 L172.76 167.16 L172.24 166.79 L171.77 166.41 L171.36 166.04 L171.01 165.67 L170.71 165.29 L170.47 164.92 L170.27 164.55 L170.11 164.17 L169.98 163.80 L169.87 163.43 L169.79 163.05 L169.73 162.68 L169.68 162.31 L169.65 161.93 L169.62 161.56 L169.60 161.19 L169.58 160.81 L169.57 160.44 L169.56 160.07 L169.56 159.69 L169.55 159.32 L169.55 158.95 L169.55 158.57 L169.54 158.20 L169.54 157.83 L169.54 157.45 L169.54 157.08 L169.54 156.71 L169.54 156.33 L169.54 155.96 L169.54 155.59 L169.54 155.21 L169.54 154.84 L169.54 154.47 L169.54 154.09 L169.54 153.72 L169.54 153.35 L169.54 152.97 L169.54 152.60Z" fill="#111" opacity="1.00"/>
<text transform="translate(172.04,192.3) rotate(-90)" font-size="7" font-style="italic" text-anchor="end" fill="#1a1a1a">TP53TG3</text>
<line x1="181.48" y1="154.30" x2="181.48" y2="172.60" stroke="#777" stroke-width="0.42"/>
<path d="M181.48 154.30 L181.48 154.61 L181.48 154.91 L181.47 155.22 L181.47 155.52 L181.47 155.83 L181.47 156.13 L181.46 156.44 L181.46 156.74 L181.45 157.05 L181.44 157.35 L181.43 157.66 L181.42 157.96 L181.41 158.27 L181.39 158.57 L181.37 158.88 L181.34 159.18 L181.30 159.49 L181.26 159.79 L181.21 160.09 L181.15 160.40 L181.07 160.71 L180.99 161.01 L180.88 161.31 L180.76 161.62 L180.61 161.93 L180.44 162.23 L180.25 162.53 L180.02 162.84 L179.77 163.15 L179.48 163.45 L179.16 163.75 L178.81 164.06 L178.43 164.37 L178.03 164.67 L177.61 164.97 L177.19 165.28 L176.78 165.59 L176.42 165.89 L176.18 166.19 L176.18 166.20 L176.43 166.50 L176.83 166.81 L177.27 167.11 L177.73 167.41 L178.17 167.72 L178.60 168.03 L178.99 168.33 L179.35 168.63 L179.67 168.94 L179.96 169.25 L180.21 169.55 L180.42 169.85 L180.61 170.16 L180.76 170.47 L180.89 170.77 L181.00 171.07 L181.10 171.38 L181.17 171.69 L181.23 171.99 L181.28 172.29 L181.32 172.60 L181.64 172.60 L181.68 172.29 L181.73 171.99 L181.79 171.69 L181.86 171.38 L181.96 171.07 L182.07 170.77 L182.20 170.47 L182.35 170.16 L182.54 169.85 L182.75 169.55 L183.00 169.25 L183.29 168.94 L183.61 168.63 L183.97 168.33 L184.36 168.03 L184.79 167.72 L185.23 167.41 L185.69 167.11 L186.13 166.81 L186.53 166.50 L186.78 166.20 L186.78 166.19 L186.54 165.89 L186.18 165.59 L185.77 165.28 L185.35 164.97 L184.93 164.67 L184.53 164.37 L184.15 164.06 L183.80 163.75 L183.48 163.45 L183.19 163.15 L182.94 162.84 L182.71 162.53 L182.52 162.23 L182.35 161.93 L182.20 161.62 L182.08 161.31 L181.97 161.01 L181.89 160.71 L181.81 160.40 L181.75 160.09 L181.70 159.79 L181.66 159.49 L181.62 159.18 L181.59 158.88 L181.57 158.57 L181.55 158.27 L181.54 157.96 L181.53 157.66 L181.52 157.35 L181.51 157.05 L181.50 156.74 L181.50 156.44 L181.49 156.13 L181.49 155.83 L181.49 155.52 L181.49 155.22 L181.48 154.91 L181.48 154.61 L181.48 154.30Z" fill="#111" opacity="0.85"/>
<text transform="translate(183.98,192.3) rotate(-90)" font-size="7" font-style="italic" text-anchor="end" fill="#1a1a1a">RHPN2</text>
<line x1="193.42" y1="103.30" x2="193.42" y2="151.60" stroke="#333" stroke-width="0.55"/>
<path d="M193.41 103.30 L193.41 104.11 L193.40 104.91 L193.40 105.72 L193.39 106.52 L193.38 107.33 L193.36 108.13 L193.34 108.94 L193.32 109.74 L193.29 110.55 L193.25 111.35 L193.20 112.16 L193.14 112.96 L193.06 113.77 L192.97 114.57 L192.87 115.38 L192.74 116.18 L192.59 116.98 L192.43 117.79 L192.24 118.59 L192.02 119.40 L191.78 120.20 L191.52 121.01 L191.25 121.81 L190.95 122.62 L190.64 123.42 L190.31 124.23 L189.99 125.03 L189.66 125.84 L189.34 126.64 L189.03 127.45 L188.74 128.25 L188.47 129.06 L188.23 129.87 L188.03 130.67 L187.87 131.47 L187.74 132.28 L187.66 133.09 L187.62 133.89 L187.62 134.30 L187.62 134.69 L187.67 135.50 L187.75 136.31 L187.89 137.11 L188.07 137.91 L188.29 138.72 L188.55 139.53 L188.84 140.33 L189.15 141.13 L189.48 141.94 L189.82 142.75 L190.17 143.55 L190.51 144.35 L190.84 145.16 L191.16 145.96 L191.46 146.77 L191.74 147.57 L191.99 148.38 L192.22 149.19 L192.42 149.99 L192.60 150.79 L192.75 151.60 L194.09 151.60 L194.24 150.79 L194.42 149.99 L194.62 149.19 L194.85 148.38 L195.10 147.57 L195.38 146.77 L195.68 145.96 L196.00 145.16 L196.33 144.35 L196.67 143.55 L197.02 142.75 L197.36 141.94 L197.69 141.13 L198.00 140.33 L198.29 139.53 L198.55 138.72 L198.77 137.91 L198.95 137.11 L199.09 136.31 L199.17 135.50 L199.22 134.69 L199.22 134.30 L199.22 133.89 L199.18 133.09 L199.10 132.28 L198.97 131.47 L198.81 130.67 L198.61 129.87 L198.37 129.06 L198.10 128.25 L197.81 127.45 L197.50 126.64 L197.18 125.84 L196.85 125.03 L196.53 124.23 L196.20 123.42 L195.89 122.62 L195.59 121.81 L195.32 121.01 L195.06 120.20 L194.82 119.40 L194.60 118.59 L194.41 117.79 L194.25 116.98 L194.10 116.18 L193.97 115.38 L193.87 114.57 L193.78 113.77 L193.70 112.96 L193.64 112.16 L193.59 111.35 L193.55 110.55 L193.52 109.74 L193.50 108.94 L193.48 108.13 L193.46 107.33 L193.45 106.52 L193.44 105.72 L193.44 104.91 L193.43 104.11 L193.43 103.30Z" fill="#111" opacity="1.00"/>
<text transform="translate(195.92,192.3) rotate(-90)" font-size="7" font-style="italic" text-anchor="end" fill="#1a1a1a">GUSBP3</text>
<line x1="205.36" y1="163.90" x2="205.36" y2="177.10" stroke="#777" stroke-width="0.42"/>
<path d="M205.36 163.90 L205.36 164.12 L205.36 164.34 L205.36 164.56 L205.36 164.78 L205.36 165.00 L205.36 165.22 L205.36 165.44 L205.36 165.66 L205.36 165.88 L205.36 166.10 L205.36 166.32 L205.36 166.54 L205.36 166.76 L205.35 166.98 L205.35 167.20 L205.35 167.42 L205.35 167.64 L205.35 167.86 L205.34 168.08 L205.34 168.30 L205.33 168.52 L205.32 168.74 L205.31 168.96 L205.29 169.18 L205.27 169.40 L205.25 169.62 L205.22 169.84 L205.18 170.06 L205.13 170.28 L205.06 170.50 L204.98 170.72 L204.88 170.94 L204.75 171.16 L204.59 171.38 L204.39 171.60 L204.14 171.82 L203.83 172.04 L203.45 172.26 L202.99 172.48 L202.42 172.70 L201.75 172.92 L200.96 173.14 L200.10 173.36 L199.96 173.40 L200.72 173.58 L201.61 173.80 L202.37 174.02 L202.99 174.24 L203.50 174.46 L203.91 174.68 L204.23 174.90 L204.48 175.12 L204.68 175.34 L204.84 175.56 L204.96 175.78 L205.05 176.00 L205.12 176.22 L205.18 176.44 L205.22 176.66 L205.26 176.88 L205.28 177.10 L205.44 177.10 L205.46 176.88 L205.50 176.66 L205.54 176.44 L205.60 176.22 L205.67 176.00 L205.76 175.78 L205.88 175.56 L206.04 175.34 L206.24 175.12 L206.49 174.90 L206.81 174.68 L207.22 174.46 L207.73 174.24 L208.35 174.02 L209.11 173.80 L210.00 173.58 L210.76 173.40 L210.62 173.36 L209.76 173.14 L208.97 172.92 L208.30 172.70 L207.73 172.48 L207.27 172.26 L206.89 172.04 L206.58 171.82 L206.33 171.60 L206.13 171.38 L205.97 171.16 L205.84 170.94 L205.74 170.72 L205.66 170.50 L205.59 170.28 L205.54 170.06 L205.50 169.84 L205.47 169.62 L205.45 169.40 L205.43 169.18 L205.41 168.96 L205.40 168.74 L205.39 168.52 L205.38 168.30 L205.38 168.08 L205.37 167.86 L205.37 167.64 L205.37 167.42 L205.37 167.20 L205.37 166.98 L205.36 166.76 L205.36 166.54 L205.36 166.32 L205.36 166.10 L205.36 165.88 L205.36 165.66 L205.36 165.44 L205.36 165.22 L205.36 165.00 L205.36 164.78 L205.36 164.56 L205.36 164.34 L205.36 164.12 L205.36 163.90Z" fill="#111" opacity="1.00"/>
<text transform="translate(207.86,192.3) rotate(-90)" font-size="7" font-style="italic" text-anchor="end" fill="#1a1a1a">DEFB4A</text>
<line x1="217.30" y1="124.80" x2="217.30" y2="150.40" stroke="#777" stroke-width="0.42"/>
<path d="M217.14 124.80 L217.12 125.23 L217.10 125.65 L217.07 126.08 L217.04 126.51 L217.01 126.93 L216.97 127.36 L216.93 127.79 L216.88 128.21 L216.83 128.64 L216.78 129.07 L216.72 129.49 L216.65 129.92 L216.57 130.35 L216.49 130.77 L216.40 131.20 L216.30 131.63 L216.20 132.05 L216.08 132.48 L215.96 132.91 L215.82 133.33 L215.68 133.76 L215.52 134.19 L215.35 134.61 L215.17 135.04 L214.99 135.47 L214.78 135.89 L214.57 136.32 L214.35 136.75 L214.12 137.17 L213.88 137.60 L213.64 138.03 L213.39 138.45 L213.13 138.88 L212.88 139.31 L212.63 139.73 L212.39 140.16 L212.17 140.59 L211.98 141.01 L211.83 141.44 L211.80 141.60 L211.88 141.87 L212.10 142.29 L212.38 142.72 L212.68 143.15 L212.99 143.57 L213.31 144.00 L213.63 144.43 L213.94 144.85 L214.23 145.28 L214.52 145.71 L214.79 146.13 L215.04 146.56 L215.27 146.99 L215.49 147.41 L215.68 147.84 L215.86 148.27 L216.03 148.69 L216.18 149.12 L216.31 149.55 L216.43 149.97 L216.54 150.40 L218.06 150.40 L218.17 149.97 L218.29 149.55 L218.42 149.12 L218.57 148.69 L218.74 148.27 L218.92 147.84 L219.11 147.41 L219.33 146.99 L219.56 146.56 L219.81 146.13 L220.08 145.71 L220.37 145.28 L220.66 144.85 L220.97 144.43 L221.29 144.00 L221.61 143.57 L221.92 143.15 L222.22 142.72 L222.50 142.29 L222.72 141.87 L222.80 141.60 L222.77 141.44 L222.62 141.01 L222.43 140.59 L222.21 140.16 L221.97 139.73 L221.72 139.31 L221.47 138.88 L221.21 138.45 L220.96 138.03 L220.72 137.60 L220.48 137.17 L220.25 136.75 L220.03 136.32 L219.82 135.89 L219.61 135.47 L219.43 135.04 L219.25 134.61 L219.08 134.19 L218.92 133.76 L218.78 133.33 L218.64 132.91 L218.52 132.48 L218.40 132.05 L218.30 131.63 L218.20 131.20 L218.11 130.77 L218.03 130.35 L217.95 129.92 L217.88 129.49 L217.82 129.07 L217.77 128.64 L217.72 128.21 L217.67 127.79 L217.63 127.36 L217.59 126.93 L217.56 126.51 L217.53 126.08 L217.50 125.65 L217.48 125.23 L217.46 124.80Z" fill="#111" opacity="1.00"/>
<text transform="translate(219.80,192.3) rotate(-90)" font-size="7" font-style="italic" text-anchor="end" fill="#1a1a1a">SPDYE1</text>
<line x1="229.24" y1="163.90" x2="229.24" y2="176.10" stroke="#777" stroke-width="0.42"/>
<path d="M229.24 163.90 L229.24 164.10 L229.24 164.31 L229.24 164.51 L229.23 164.71 L229.23 164.92 L229.23 165.12 L229.23 165.32 L229.22 165.53 L229.22 165.73 L229.22 165.93 L229.21 166.14 L229.20 166.34 L229.19 166.54 L229.18 166.75 L229.16 166.95 L229.14 167.15 L229.11 167.36 L229.08 167.56 L229.04 167.76 L228.99 167.97 L228.93 168.17 L228.86 168.37 L228.77 168.58 L228.67 168.78 L228.54 168.98 L228.40 169.19 L228.22 169.39 L228.01 169.59 L227.77 169.80 L227.49 170.00 L227.17 170.20 L226.81 170.41 L226.40 170.61 L225.96 170.81 L225.47 171.02 L224.95 171.22 L224.43 171.42 L223.94 171.63 L223.64 171.80 L223.67 171.83 L224.12 172.03 L224.66 172.24 L225.22 172.44 L225.75 172.64 L226.25 172.85 L226.70 173.05 L227.10 173.25 L227.45 173.46 L227.75 173.66 L228.01 173.86 L228.23 174.07 L228.41 174.27 L228.57 174.47 L228.70 174.68 L228.80 174.88 L228.89 175.08 L228.96 175.29 L229.02 175.49 L229.06 175.69 L229.10 175.90 L229.13 176.10 L229.35 176.10 L229.38 175.90 L229.42 175.69 L229.46 175.49 L229.52 175.29 L229.59 175.08 L229.68 174.88 L229.78 174.68 L229.91 174.47 L230.07 174.27 L230.25 174.07 L230.47 173.86 L230.73 173.66 L231.03 173.46 L231.38 173.25 L231.78 173.05 L232.23 172.85 L232.73 172.64 L233.26 172.44 L233.82 172.24 L234.36 172.03 L234.81 171.83 L234.84 171.80 L234.54 171.63 L234.05 171.42 L233.53 171.22 L233.01 171.02 L232.52 170.81 L232.08 170.61 L231.67 170.41 L231.31 170.20 L230.99 170.00 L230.71 169.80 L230.47 169.59 L230.26 169.39 L230.08 169.19 L229.94 168.98 L229.81 168.78 L229.71 168.58 L229.62 168.37 L229.55 168.17 L229.49 167.97 L229.44 167.76 L229.40 167.56 L229.37 167.36 L229.34 167.15 L229.32 166.95 L229.30 166.75 L229.29 166.54 L229.28 166.34 L229.27 166.14 L229.26 165.93 L229.26 165.73 L229.26 165.53 L229.25 165.32 L229.25 165.12 L229.25 164.92 L229.25 164.71 L229.24 164.51 L229.24 164.31 L229.24 164.10 L229.24 163.90Z" fill="#111" opacity="1.00"/>
<text transform="translate(231.74,192.3) rotate(-90)" font-size="7" font-style="italic" text-anchor="end" fill="#1a1a1a">OR4Q3</text>
<line x1="241.18" y1="165.30" x2="241.18" y2="176.60" stroke="#777" stroke-width="0.42"/>
<path d="M241.18 165.30 L241.18 165.49 L241.18 165.68 L241.18 165.87 L241.18 166.05 L241.18 166.24 L241.17 166.43 L241.17 166.62 L241.17 166.81 L241.17 167.00 L241.17 167.18 L241.16 167.37 L241.16 167.56 L241.15 167.75 L241.15 167.94 L241.14 168.12 L241.13 168.31 L241.12 168.50 L241.10 168.69 L241.09 168.88 L241.06 169.07 L241.04 169.25 L241.00 169.44 L240.96 169.63 L240.91 169.82 L240.85 170.01 L240.77 170.20 L240.68 170.38 L240.56 170.57 L240.43 170.76 L240.26 170.95 L240.06 171.14 L239.82 171.33 L239.53 171.52 L239.19 171.70 L238.78 171.89 L238.30 172.08 L237.73 172.27 L237.09 172.46 L236.37 172.65 L235.78 172.80 L235.91 172.83 L236.72 173.02 L237.47 173.21 L238.12 173.40 L238.67 173.59 L239.14 173.78 L239.52 173.96 L239.84 174.15 L240.10 174.34 L240.31 174.53 L240.48 174.72 L240.62 174.91 L240.73 175.09 L240.82 175.28 L240.90 175.47 L240.95 175.66 L241.00 175.85 L241.04 176.03 L241.07 176.22 L241.09 176.41 L241.11 176.60 L241.25 176.60 L241.27 176.41 L241.29 176.22 L241.32 176.03 L241.36 175.85 L241.41 175.66 L241.46 175.47 L241.54 175.28 L241.63 175.09 L241.74 174.91 L241.88 174.72 L242.05 174.53 L242.26 174.34 L242.52 174.15 L242.84 173.96 L243.22 173.78 L243.69 173.59 L244.24 173.40 L244.89 173.21 L245.64 173.02 L246.45 172.83 L246.58 172.80 L245.99 172.65 L245.27 172.46 L244.63 172.27 L244.06 172.08 L243.58 171.89 L243.17 171.70 L242.83 171.52 L242.54 171.33 L242.30 171.14 L242.10 170.95 L241.93 170.76 L241.80 170.57 L241.68 170.38 L241.59 170.20 L241.51 170.01 L241.45 169.82 L241.40 169.63 L241.36 169.44 L241.32 169.25 L241.30 169.07 L241.27 168.88 L241.26 168.69 L241.24 168.50 L241.23 168.31 L241.22 168.12 L241.21 167.94 L241.21 167.75 L241.20 167.56 L241.20 167.37 L241.19 167.18 L241.19 167.00 L241.19 166.81 L241.19 166.62 L241.19 166.43 L241.18 166.24 L241.18 166.05 L241.18 165.87 L241.18 165.68 L241.18 165.49 L241.18 165.30Z" fill="#111" opacity="0.70"/>
<text transform="translate(243.68,192.3) rotate(-90)" font-size="7" font-style="italic" text-anchor="end" fill="#1a1a1a">PGA3</text>
<line x1="253.12" y1="155.70" x2="253.12" y2="169.10" stroke="#777" stroke-width="0.42"/>
<path d="M252.96 155.70 L252.93 155.92 L252.90 156.15 L252.86 156.37 L252.82 156.59 L252.78 156.82 L252.72 157.04 L252.66 157.26 L252.59 157.49 L252.51 157.71 L252.43 157.93 L252.33 158.16 L252.22 158.38 L252.10 158.60 L251.97 158.83 L251.82 159.05 L251.66 159.27 L251.49 159.50 L251.30 159.72 L251.09 159.94 L250.87 160.17 L250.64 160.39 L250.40 160.61 L250.14 160.84 L249.87 161.06 L249.60 161.28 L249.32 161.51 L249.04 161.73 L248.76 161.95 L248.50 162.18 L248.25 162.40 L248.02 162.62 L247.84 162.85 L247.72 163.07 L247.72 163.10 L247.81 163.29 L247.99 163.52 L248.23 163.74 L248.49 163.96 L248.78 164.19 L249.07 164.41 L249.37 164.63 L249.67 164.86 L249.96 165.08 L250.24 165.30 L250.51 165.53 L250.77 165.75 L251.00 165.97 L251.23 166.20 L251.43 166.42 L251.62 166.64 L251.80 166.87 L251.96 167.09 L252.10 167.31 L252.23 167.54 L252.34 167.76 L252.44 167.98 L252.53 168.21 L252.61 168.43 L252.68 168.65 L252.75 168.88 L252.80 169.10 L253.44 169.10 L253.49 168.88 L253.56 168.65 L253.63 168.43 L253.71 168.21 L253.80 167.98 L253.90 167.76 L254.01 167.54 L254.14 167.31 L254.28 167.09 L254.44 166.87 L254.62 166.64 L254.81 166.42 L255.01 166.20 L255.24 165.97 L255.47 165.75 L255.73 165.53 L256.00 165.30 L256.28 165.08 L256.57 164.86 L256.87 164.63 L257.17 164.41 L257.46 164.19 L257.75 163.96 L258.01 163.74 L258.25 163.52 L258.43 163.29 L258.52 163.10 L258.52 163.07 L258.40 162.85 L258.22 162.62 L257.99 162.40 L257.74 162.18 L257.48 161.95 L257.20 161.73 L256.92 161.51 L256.64 161.28 L256.37 161.06 L256.10 160.84 L255.84 160.61 L255.60 160.39 L255.37 160.17 L255.15 159.94 L254.94 159.72 L254.75 159.50 L254.58 159.27 L254.42 159.05 L254.27 158.83 L254.14 158.60 L254.02 158.38 L253.91 158.16 L253.81 157.93 L253.73 157.71 L253.65 157.49 L253.58 157.26 L253.52 157.04 L253.46 156.82 L253.42 156.59 L253.38 156.37 L253.34 156.15 L253.31 155.92 L253.28 155.70Z" fill="#111" opacity="1.00"/>
<text transform="translate(255.62,192.3) rotate(-90)" font-size="7" font-style="italic" text-anchor="end" fill="#1a1a1a">OR4F3</text>
<line x1="265.06" y1="161.30" x2="265.06" y2="171.10" stroke="#777" stroke-width="0.42"/>
<path d="M265.04 161.30 L265.04 161.46 L265.03 161.63 L265.03 161.79 L265.02 161.95 L265.01 162.12 L265.00 162.28 L264.99 162.44 L264.98 162.61 L264.96 162.77 L264.94 162.93 L264.92 163.10 L264.89 163.26 L264.86 163.42 L264.82 163.59 L264.77 163.75 L264.72 163.91 L264.66 164.08 L264.59 164.24 L264.50 164.40 L264.41 164.57 L264.29 164.73 L264.17 164.89 L264.02 165.06 L263.85 165.22 L263.66 165.38 L263.45 165.55 L263.20 165.71 L262.94 165.87 L262.64 166.04 L262.31 166.20 L261.95 166.36 L261.57 166.53 L261.16 166.69 L260.72 166.85 L260.28 167.02 L259.84 167.18 L259.44 167.34 L259.16 167.50 L259.17 167.51 L259.50 167.67 L259.94 167.83 L260.41 168.00 L260.88 168.16 L261.33 168.32 L261.76 168.49 L262.15 168.65 L262.52 168.81 L262.85 168.98 L263.14 169.14 L263.40 169.30 L263.64 169.47 L263.84 169.63 L264.02 169.79 L264.18 169.96 L264.31 170.12 L264.43 170.28 L264.53 170.45 L264.61 170.61 L264.69 170.77 L264.75 170.94 L264.80 171.10 L265.32 171.10 L265.37 170.94 L265.43 170.77 L265.51 170.61 L265.59 170.45 L265.69 170.28 L265.81 170.12 L265.94 169.96 L266.10 169.79 L266.28 169.63 L266.48 169.47 L266.72 169.30 L266.98 169.14 L267.27 168.98 L267.60 168.81 L267.97 168.65 L268.36 168.49 L268.79 168.32 L269.24 168.16 L269.71 168.00 L270.18 167.83 L270.62 167.67 L270.95 167.51 L270.96 167.50 L270.68 167.34 L270.28 167.18 L269.84 167.02 L269.40 166.85 L268.96 166.69 L268.55 166.53 L268.17 166.36 L267.81 166.20 L267.48 166.04 L267.18 165.87 L266.92 165.71 L266.67 165.55 L266.46 165.38 L266.27 165.22 L266.10 165.06 L265.95 164.89 L265.83 164.73 L265.71 164.57 L265.62 164.40 L265.53 164.24 L265.46 164.08 L265.40 163.91 L265.35 163.75 L265.30 163.59 L265.26 163.42 L265.23 163.26 L265.20 163.10 L265.18 162.93 L265.16 162.77 L265.14 162.61 L265.13 162.44 L265.12 162.28 L265.11 162.12 L265.10 161.95 L265.09 161.79 L265.09 161.63 L265.08 161.46 L265.08 161.30Z" fill="#111" opacity="1.00"/>
<text transform="translate(267.56,192.3) rotate(-90)" font-size="7" font-style="italic" text-anchor="end" fill="#1a1a1a">ARL17B</text>
<line x1="277.00" y1="161.30" x2="277.00" y2="175.10" stroke="#777" stroke-width="0.42"/>
<path d="M277.00 161.30 L277.00 161.53 L277.00 161.76 L277.00 161.99 L276.99 162.22 L276.99 162.45 L276.99 162.68 L276.99 162.91 L276.99 163.14 L276.98 163.37 L276.98 163.60 L276.97 163.83 L276.97 164.06 L276.96 164.29 L276.95 164.52 L276.94 164.75 L276.93 164.98 L276.91 165.21 L276.89 165.44 L276.87 165.67 L276.84 165.90 L276.80 166.13 L276.76 166.36 L276.71 166.59 L276.64 166.82 L276.56 167.05 L276.47 167.28 L276.36 167.51 L276.22 167.74 L276.06 167.97 L275.86 168.20 L275.63 168.43 L275.35 168.66 L275.03 168.89 L274.64 169.12 L274.19 169.35 L273.68 169.58 L273.09 169.81 L272.44 170.04 L272.00 170.20 L272.20 170.27 L272.90 170.50 L273.56 170.73 L274.13 170.96 L274.62 171.19 L275.03 171.42 L275.38 171.65 L275.67 171.88 L275.91 172.11 L276.11 172.34 L276.28 172.57 L276.41 172.80 L276.52 173.03 L276.62 173.26 L276.69 173.49 L276.75 173.72 L276.80 173.95 L276.84 174.18 L276.87 174.41 L276.89 174.64 L276.92 174.87 L276.93 175.10 L277.07 175.10 L277.08 174.87 L277.11 174.64 L277.13 174.41 L277.16 174.18 L277.20 173.95 L277.25 173.72 L277.31 173.49 L277.38 173.26 L277.48 173.03 L277.59 172.80 L277.72 172.57 L277.89 172.34 L278.09 172.11 L278.33 171.88 L278.62 171.65 L278.97 171.42 L279.38 171.19 L279.87 170.96 L280.44 170.73 L281.10 170.50 L281.80 170.27 L282.00 170.20 L281.56 170.04 L280.91 169.81 L280.32 169.58 L279.81 169.35 L279.36 169.12 L278.97 168.89 L278.65 168.66 L278.37 168.43 L278.14 168.20 L277.94 167.97 L277.78 167.74 L277.64 167.51 L277.53 167.28 L277.44 167.05 L277.36 166.82 L277.29 166.59 L277.24 166.36 L277.20 166.13 L277.16 165.90 L277.13 165.67 L277.11 165.44 L277.09 165.21 L277.07 164.98 L277.06 164.75 L277.05 164.52 L277.04 164.29 L277.03 164.06 L277.03 163.83 L277.02 163.60 L277.02 163.37 L277.01 163.14 L277.01 162.91 L277.01 162.68 L277.01 162.45 L277.01 162.22 L277.00 161.99 L277.00 161.76 L277.00 161.53 L277.00 161.30Z" fill="#111" opacity="1.00"/>
<text transform="translate(279.50,192.3) rotate(-90)" font-size="7" font-style="italic" text-anchor="end" fill="#1a1a1a">NAIP</text>
<line x1="288.94" y1="166.30" x2="288.94" y2="176.40" stroke="#777" stroke-width="0.42"/>
<path d="M288.94 166.30 L288.94 166.47 L288.94 166.64 L288.94 166.81 L288.94 166.97 L288.94 167.14 L288.94 167.31 L288.94 167.48 L288.94 167.65 L288.94 167.81 L288.93 167.98 L288.93 168.15 L288.93 168.32 L288.93 168.49 L288.93 168.66 L288.93 168.83 L288.92 168.99 L288.92 169.16 L288.92 169.33 L288.91 169.50 L288.91 169.67 L288.90 169.84 L288.90 170.00 L288.89 170.17 L288.88 170.34 L288.86 170.51 L288.85 170.68 L288.83 170.84 L288.80 171.01 L288.78 171.18 L288.74 171.35 L288.70 171.52 L288.64 171.69 L288.57 171.86 L288.48 172.02 L288.37 172.19 L288.23 172.36 L288.05 172.53 L287.82 172.70 L287.50 172.87 L287.09 173.03 L286.51 173.20 L285.67 173.37 L284.30 173.54 L283.34 173.60 L284.86 173.71 L286.09 173.88 L286.86 174.04 L287.38 174.21 L287.75 174.38 L288.03 174.55 L288.23 174.72 L288.39 174.89 L288.50 175.05 L288.60 175.22 L288.67 175.39 L288.72 175.56 L288.76 175.73 L288.80 175.90 L288.83 176.06 L288.85 176.23 L288.87 176.40 L289.01 176.40 L289.03 176.23 L289.05 176.06 L289.08 175.90 L289.12 175.73 L289.16 175.56 L289.21 175.39 L289.28 175.22 L289.38 175.05 L289.49 174.89 L289.65 174.72 L289.85 174.55 L290.13 174.38 L290.50 174.21 L291.02 174.04 L291.79 173.88 L293.02 173.71 L294.54 173.60 L293.58 173.54 L292.21 173.37 L291.37 173.20 L290.79 173.03 L290.38 172.87 L290.06 172.70 L289.83 172.53 L289.65 172.36 L289.51 172.19 L289.40 172.02 L289.31 171.86 L289.24 171.69 L289.18 171.52 L289.14 171.35 L289.10 171.18 L289.08 171.01 L289.05 170.84 L289.03 170.68 L289.02 170.51 L289.00 170.34 L288.99 170.17 L288.98 170.00 L288.98 169.84 L288.97 169.67 L288.97 169.50 L288.96 169.33 L288.96 169.16 L288.96 168.99 L288.95 168.83 L288.95 168.66 L288.95 168.49 L288.95 168.32 L288.95 168.15 L288.95 167.98 L288.94 167.81 L288.94 167.65 L288.94 167.48 L288.94 167.31 L288.94 167.14 L288.94 166.97 L288.94 166.81 L288.94 166.64 L288.94 166.47 L288.94 166.30Z" fill="#111" opacity="0.75"/>
<text transform="translate(291.44,192.3) rotate(-90)" font-size="7" font-style="italic" text-anchor="end" fill="#1a1a1a">GRAP</text>
<line x1="300.88" y1="167.30" x2="300.88" y2="175.90" stroke="#777" stroke-width="0.42"/>
<path d="M300.87 167.30 L300.87 167.44 L300.87 167.59 L300.87 167.73 L300.87 167.87 L300.87 168.02 L300.87 168.16 L300.86 168.30 L300.86 168.45 L300.86 168.59 L300.86 168.73 L300.85 168.88 L300.85 169.02 L300.84 169.16 L300.84 169.31 L300.83 169.45 L300.82 169.59 L300.81 169.74 L300.80 169.88 L300.78 170.02 L300.77 170.17 L300.75 170.31 L300.72 170.45 L300.69 170.60 L300.66 170.74 L300.62 170.88 L300.56 171.03 L300.50 171.17 L300.43 171.31 L300.34 171.46 L300.23 171.60 L300.09 171.74 L299.92 171.89 L299.70 172.03 L299.43 172.17 L299.07 172.32 L298.61 172.46 L297.98 172.60 L297.08 172.75 L295.52 172.89 L295.28 172.90 L297.04 173.03 L298.04 173.18 L298.71 173.32 L299.19 173.46 L299.55 173.61 L299.82 173.75 L300.03 173.89 L300.19 174.04 L300.32 174.18 L300.43 174.32 L300.51 174.47 L300.57 174.61 L300.63 174.75 L300.67 174.90 L300.71 175.04 L300.74 175.18 L300.76 175.33 L300.78 175.47 L300.80 175.61 L300.81 175.76 L300.82 175.90 L300.94 175.90 L300.95 175.76 L300.96 175.61 L300.98 175.47 L301.00 175.33 L301.02 175.18 L301.05 175.04 L301.09 174.90 L301.13 174.75 L301.19 174.61 L301.25 174.47 L301.33 174.32 L301.44 174.18 L301.57 174.04 L301.73 173.89 L301.94 173.75 L302.21 173.61 L302.57 173.46 L303.05 173.32 L303.72 173.18 L304.72 173.03 L306.48 172.90 L306.24 172.89 L304.68 172.75 L303.78 172.60 L303.15 172.46 L302.69 172.32 L302.33 172.17 L302.06 172.03 L301.84 171.89 L301.67 171.74 L301.53 171.60 L301.42 171.46 L301.33 171.31 L301.26 171.17 L301.20 171.03 L301.14 170.88 L301.10 170.74 L301.07 170.60 L301.04 170.45 L301.01 170.31 L300.99 170.17 L300.98 170.02 L300.96 169.88 L300.95 169.74 L300.94 169.59 L300.93 169.45 L300.92 169.31 L300.92 169.16 L300.91 169.02 L300.91 168.88 L300.90 168.73 L300.90 168.59 L300.90 168.45 L300.90 168.30 L300.89 168.16 L300.89 168.02 L300.89 167.87 L300.89 167.73 L300.89 167.59 L300.89 167.44 L300.89 167.30Z" fill="#111" opacity="0.75"/>
<text transform="translate(303.38,192.3) rotate(-90)" font-size="7" font-style="italic" text-anchor="end" fill="#1a1a1a">GTF2H2</text>
<line x1="312.82" y1="155.70" x2="312.82" y2="175.90" stroke="#777" stroke-width="0.42"/>
<path d="M312.82 155.70 L312.82 156.04 L312.82 156.37 L312.82 156.71 L312.82 157.05 L312.81 157.38 L312.81 157.72 L312.81 158.06 L312.81 158.39 L312.80 158.73 L312.80 159.07 L312.79 159.40 L312.78 159.74 L312.77 160.08 L312.76 160.41 L312.74 160.75 L312.72 161.09 L312.70 161.42 L312.67 161.76 L312.63 162.10 L312.58 162.43 L312.52 162.77 L312.45 163.11 L312.37 163.44 L312.27 163.78 L312.15 164.12 L312.01 164.45 L311.85 164.79 L311.66 165.13 L311.45 165.46 L311.20 165.80 L310.92 166.14 L310.62 166.47 L310.28 166.81 L309.91 167.15 L309.52 167.48 L309.10 167.82 L308.68 168.16 L308.25 168.49 L307.84 168.83 L307.47 169.17 L307.17 169.50 L307.02 169.80 L307.03 169.84 L307.25 170.18 L307.60 170.51 L308.01 170.85 L308.46 171.19 L308.91 171.52 L309.36 171.86 L309.79 172.20 L310.19 172.53 L310.55 172.87 L310.89 173.21 L311.18 173.54 L311.45 173.88 L311.67 174.22 L311.87 174.55 L312.04 174.89 L312.18 175.23 L312.30 175.56 L312.40 175.90 L313.24 175.90 L313.34 175.56 L313.46 175.23 L313.60 174.89 L313.77 174.55 L313.97 174.22 L314.19 173.88 L314.46 173.54 L314.75 173.21 L315.09 172.87 L315.45 172.53 L315.85 172.20 L316.28 171.86 L316.73 171.52 L317.18 171.19 L317.63 170.85 L318.04 170.51 L318.39 170.18 L318.61 169.84 L318.62 169.80 L318.47 169.50 L318.17 169.17 L317.80 168.83 L317.39 168.49 L316.96 168.16 L316.54 167.82 L316.12 167.48 L315.73 167.15 L315.36 166.81 L315.02 166.47 L314.72 166.14 L314.44 165.80 L314.19 165.46 L313.98 165.13 L313.79 164.79 L313.63 164.45 L313.49 164.12 L313.37 163.78 L313.27 163.44 L313.19 163.11 L313.12 162.77 L313.06 162.43 L313.01 162.10 L312.97 161.76 L312.94 161.42 L312.92 161.09 L312.90 160.75 L312.88 160.41 L312.87 160.08 L312.86 159.74 L312.85 159.40 L312.84 159.07 L312.84 158.73 L312.83 158.39 L312.83 158.06 L312.83 157.72 L312.83 157.38 L312.82 157.05 L312.82 156.71 L312.82 156.37 L312.82 156.04 L312.82 155.70Z" fill="#111" opacity="1.00"/>
<text transform="translate(315.32,192.3) rotate(-90)" font-size="7" font-style="italic" text-anchor="end" fill="#1a1a1a">C2orf78</text>
<line x1="324.76" y1="69.30" x2="324.76" y2="159.10" stroke="#333" stroke-width="0.55"/>
<path d="M324.76 69.30 L324.76 70.80 L324.76 72.29 L324.76 73.79 L324.76 75.29 L324.76 76.78 L324.76 78.28 L324.76 79.78 L324.76 81.27 L324.76 82.77 L324.76 84.27 L324.76 85.76 L324.76 87.26 L324.76 88.76 L324.76 90.25 L324.76 91.75 L324.76 93.25 L324.76 94.74 L324.76 96.24 L324.76 97.74 L324.76 99.23 L324.75 100.73 L324.75 102.23 L324.74 103.72 L324.72 105.22 L324.69 106.72 L324.64 108.21 L324.56 109.71 L324.45 111.21 L324.29 112.70 L324.07 114.20 L323.78 115.70 L323.41 117.19 L322.97 118.69 L322.45 120.19 L321.88 121.68 L321.27 123.18 L320.67 124.68 L320.10 126.17 L319.60 127.67 L319.22 129.17 L318.97 130.66 L318.86 132.16 L318.86 132.60 L318.90 133.66 L319.08 135.15 L319.43 136.65 L319.92 138.15 L320.50 139.64 L321.14 141.14 L321.79 142.64 L322.41 144.13 L322.96 145.63 L323.44 147.13 L323.82 148.62 L324.12 150.12 L324.33 151.62 L324.49 153.11 L324.59 154.61 L324.66 156.11 L324.70 157.60 L324.73 159.10 L324.79 159.10 L324.82 157.60 L324.86 156.11 L324.93 154.61 L325.03 153.11 L325.19 151.62 L325.40 150.12 L325.70 148.62 L326.08 147.13 L326.56 145.63 L327.11 144.13 L327.73 142.64 L328.38 141.14 L329.02 139.64 L329.60 138.15 L330.09 136.65 L330.44 135.15 L330.62 133.66 L330.66 132.60 L330.66 132.16 L330.55 130.66 L330.30 129.17 L329.92 127.67 L329.42 126.17 L328.85 124.68 L328.25 123.18 L327.64 121.68 L327.07 120.19 L326.55 118.69 L326.11 117.19 L325.74 115.70 L325.45 114.20 L325.23 112.70 L325.07 111.21 L324.96 109.71 L324.88 108.21 L324.83 106.72 L324.80 105.22 L324.78 103.72 L324.77 102.23 L324.77 100.73 L324.76 99.23 L324.76 97.74 L324.76 96.24 L324.76 94.74 L324.76 93.25 L324.76 91.75 L324.76 90.25 L324.76 88.76 L324.76 87.26 L324.76 85.76 L324.76 84.27 L324.76 82.77 L324.76 81.27 L324.76 79.78 L324.76 78.28 L324.76 76.78 L324.76 75.29 L324.76 73.79 L324.76 72.29 L324.76 70.80 L324.76 69.30Z" fill="#111" opacity="1.00"/>
<text transform="translate(327.26,192.3) rotate(-90)" font-size="7" font-style="italic" text-anchor="end" fill="#1a1a1a">TRIM48</text>
<rect x="379.9" y="3.8" width="302.1" height="181.4" fill="none" stroke="#555" stroke-width="0.7"/>
<text x="375.8" y="185.5" font-size="6.3" text-anchor="end" fill="#1a1a1a">2</text>
<text x="375.8" y="161.7" font-size="6.3" text-anchor="end" fill="#1a1a1a">4</text>
<text x="375.8" y="137.9" font-size="6.3" text-anchor="end" fill="#1a1a1a">6</text>
<text x="375.8" y="114.1" font-size="6.3" text-anchor="end" fill="#1a1a1a">8</text>
<text x="375.8" y="90.3" font-size="6.3" text-anchor="end" fill="#1a1a1a">10</text>
<text x="375.8" y="66.5" font-size="6.3" text-anchor="end" fill="#1a1a1a">12</text>
<text x="375.8" y="42.7" font-size="6.3" text-anchor="end" fill="#1a1a1a">14</text>
<text x="375.8" y="18.9" font-size="6.3" text-anchor="end" fill="#1a1a1a">16</text>
<text transform="translate(359.8,94.5) rotate(-90)" font-size="9" text-anchor="middle" fill="#1a1a1a">Copy number</text>
<text x="543.7" y="248" font-size="9" text-anchor="middle" fill="#1a1a1a">Gene family</text>
<text x="352.6" y="9.1" font-size="12.8" font-weight="bold" fill="#000" stroke="#000" stroke-width="0.35">b</text>
<line x1="385.90" y1="148.09" x2="385.90" y2="171.89" stroke="#999" stroke-width="0.35"/>
<path d="M385.90 159.48 L385.67 159.55 L385.36 159.62 L385.01 159.69 L384.63 159.76 L384.22 159.83 L383.78 159.90 L383.34 159.98 L382.87 160.05 L382.39 160.12 L381.89 160.19 L381.39 160.26 L380.87 160.33 L380.34 160.40 L379.80 160.48 L380.34 160.55 L380.87 160.62 L381.39 160.69 L381.89 160.76 L382.39 160.83 L382.87 160.90 L383.34 160.98 L383.78 161.05 L384.22 161.12 L384.63 161.19 L385.01 161.26 L385.36 161.33 L385.67 161.40 L385.90 161.48 L385.90 161.48 L386.13 161.40 L386.44 161.33 L386.79 161.26 L387.17 161.19 L387.58 161.12 L388.02 161.05 L388.46 160.98 L388.93 160.90 L389.41 160.83 L389.91 160.76 L390.41 160.69 L390.93 160.62 L391.46 160.55 L392.00 160.48 L391.46 160.40 L390.93 160.33 L390.41 160.26 L389.91 160.19 L389.41 160.12 L388.93 160.05 L388.46 159.98 L388.02 159.90 L387.58 159.83 L387.17 159.76 L386.79 159.69 L386.44 159.62 L386.13 159.55 L385.90 159.48Z" fill="#111"/>
<text transform="translate(388.40,192.3) rotate(-90)" font-size="7" font-style="italic" text-anchor="end" fill="#1a1a1a">HYDIN</text>
<line x1="398.02" y1="130.84" x2="398.02" y2="142.74" stroke="#999" stroke-width="0.35"/>
<path d="M398.02 134.95 L397.79 135.15 L397.48 135.35 L397.13 135.55 L396.75 135.75 L396.34 135.95 L395.90 136.15 L395.46 136.35 L394.99 136.55 L394.51 136.75 L394.01 136.95 L393.51 137.15 L392.99 137.35 L392.46 137.55 L391.92 137.75 L392.46 137.95 L392.99 138.15 L393.51 138.35 L394.01 138.55 L394.51 138.75 L394.99 138.95 L395.46 139.15 L395.90 139.35 L396.34 139.55 L396.75 139.75 L397.13 139.95 L397.48 140.15 L397.79 140.35 L398.02 140.55 L398.02 140.55 L398.25 140.35 L398.56 140.15 L398.91 139.95 L399.29 139.75 L399.70 139.55 L400.14 139.35 L400.58 139.15 L401.05 138.95 L401.53 138.75 L402.03 138.55 L402.53 138.35 L403.05 138.15 L403.58 137.95 L404.12 137.75 L403.58 137.55 L403.05 137.35 L402.53 137.15 L402.03 136.95 L401.53 136.75 L401.05 136.55 L400.58 136.35 L400.14 136.15 L399.70 135.95 L399.29 135.75 L398.91 135.55 L398.56 135.35 L398.25 135.15 L398.02 134.95Z" fill="#111"/>
<text transform="translate(400.52,192.3) rotate(-90)" font-size="7" font-style="italic" text-anchor="end" fill="#1a1a1a">GPAT2</text>
<line x1="410.14" y1="157.61" x2="410.14" y2="164.75" stroke="#999" stroke-width="0.35"/>
<path d="M410.14 159.37 L409.91 159.53 L409.60 159.69 L409.25 159.86 L408.87 160.02 L408.46 160.19 L408.02 160.35 L407.58 160.52 L407.11 160.68 L406.63 160.84 L406.13 161.01 L405.63 161.17 L405.11 161.34 L404.58 161.50 L404.04 161.67 L404.58 161.83 L405.11 161.99 L405.63 162.16 L406.13 162.32 L406.63 162.49 L407.11 162.65 L407.58 162.82 L408.02 162.98 L408.46 163.14 L408.87 163.31 L409.25 163.47 L409.60 163.64 L409.91 163.80 L410.14 163.97 L410.14 163.97 L410.37 163.80 L410.68 163.64 L411.03 163.47 L411.41 163.31 L411.82 163.14 L412.26 162.98 L412.70 162.82 L413.17 162.65 L413.65 162.49 L414.15 162.32 L414.65 162.16 L415.17 161.99 L415.70 161.83 L416.24 161.67 L415.70 161.50 L415.17 161.34 L414.65 161.17 L414.15 161.01 L413.65 160.84 L413.17 160.68 L412.70 160.52 L412.26 160.35 L411.82 160.19 L411.41 160.02 L411.03 159.86 L410.68 159.69 L410.37 159.53 L410.14 159.37Z" fill="#111"/>
<text transform="translate(412.64,192.3) rotate(-90)" font-size="7" font-style="italic" text-anchor="end" fill="#1a1a1a">DPY19L1</text>
<line x1="422.26" y1="144.52" x2="422.26" y2="168.32" stroke="#999" stroke-width="0.35"/>
<path d="M422.26 162.66 L422.03 162.81 L421.72 162.96 L421.37 163.11 L420.99 163.26 L420.58 163.41 L420.14 163.56 L419.70 163.71 L419.23 163.86 L418.75 164.01 L418.25 164.16 L417.75 164.31 L417.23 164.46 L416.70 164.61 L416.16 164.76 L416.70 164.91 L417.23 165.06 L417.75 165.21 L418.25 165.36 L418.75 165.51 L419.23 165.66 L419.70 165.81 L420.14 165.96 L420.58 166.11 L420.99 166.26 L421.37 166.41 L421.72 166.56 L422.03 166.71 L422.26 166.86 L422.26 166.86 L422.49 166.71 L422.80 166.56 L423.15 166.41 L423.53 166.26 L423.94 166.11 L424.38 165.96 L424.82 165.81 L425.29 165.66 L425.77 165.51 L426.27 165.36 L426.77 165.21 L427.29 165.06 L427.82 164.91 L428.36 164.76 L427.82 164.61 L427.29 164.46 L426.77 164.31 L426.27 164.16 L425.77 164.01 L425.29 163.86 L424.82 163.71 L424.38 163.56 L423.94 163.41 L423.53 163.26 L423.15 163.11 L422.80 162.96 L422.49 162.81 L422.26 162.66Z" fill="#111"/>
<text transform="translate(424.76,192.3) rotate(-90)" font-size="7" font-style="italic" text-anchor="end" fill="#1a1a1a">EFL1</text>
<line x1="434.38" y1="151.66" x2="434.38" y2="165.94" stroke="#999" stroke-width="0.35"/>
<path d="M434.38 156.89 L434.15 157.06 L433.84 157.23 L433.49 157.40 L433.11 157.57 L432.70 157.74 L432.26 157.91 L431.82 158.09 L431.35 158.26 L430.87 158.43 L430.37 158.60 L429.87 158.77 L429.35 158.94 L428.82 159.11 L428.28 159.29 L428.82 159.46 L429.35 159.63 L429.87 159.80 L430.37 159.97 L430.87 160.14 L431.35 160.31 L431.82 160.49 L432.26 160.66 L432.70 160.83 L433.11 161.00 L433.49 161.17 L433.84 161.34 L434.15 161.51 L434.38 161.69 L434.38 161.69 L434.61 161.51 L434.92 161.34 L435.27 161.17 L435.65 161.00 L436.06 160.83 L436.50 160.66 L436.94 160.49 L437.41 160.31 L437.89 160.14 L438.39 159.97 L438.89 159.80 L439.41 159.63 L439.94 159.46 L440.48 159.29 L439.94 159.11 L439.41 158.94 L438.89 158.77 L438.39 158.60 L437.89 158.43 L437.41 158.26 L436.94 158.09 L436.50 157.91 L436.06 157.74 L435.65 157.57 L435.27 157.40 L434.92 157.23 L434.61 157.06 L434.38 156.89Z" fill="#111"/>
<text transform="translate(436.88,192.3) rotate(-90)" font-size="7" font-style="italic" text-anchor="end" fill="#1a1a1a">ACTR3B</text>
<line x1="446.50" y1="165.94" x2="446.50" y2="171.30" stroke="#999" stroke-width="0.35"/>
<path d="M446.50 166.47 L446.27 166.62 L445.96 166.77 L445.61 166.92 L445.23 167.07 L444.82 167.22 L444.38 167.37 L443.94 167.52 L443.47 167.67 L442.99 167.82 L442.49 167.97 L441.99 168.12 L441.47 168.27 L440.94 168.42 L440.40 168.57 L440.94 168.72 L441.47 168.87 L441.99 169.02 L442.49 169.17 L442.99 169.32 L443.47 169.47 L443.94 169.62 L444.38 169.77 L444.82 169.92 L445.23 170.07 L445.61 170.22 L445.96 170.37 L446.27 170.52 L446.50 170.67 L446.50 170.67 L446.73 170.52 L447.04 170.37 L447.39 170.22 L447.77 170.07 L448.18 169.92 L448.62 169.77 L449.06 169.62 L449.53 169.47 L450.01 169.32 L450.51 169.17 L451.01 169.02 L451.53 168.87 L452.06 168.72 L452.60 168.57 L452.06 168.42 L451.53 168.27 L451.01 168.12 L450.51 167.97 L450.01 167.82 L449.53 167.67 L449.06 167.52 L448.62 167.37 L448.18 167.22 L447.77 167.07 L447.39 166.92 L447.04 166.77 L446.73 166.62 L446.50 166.47Z" fill="#111"/>
<text transform="translate(449.00,192.3) rotate(-90)" font-size="7" font-style="italic" text-anchor="end" fill="#1a1a1a">ZSCAN25</text>
<line x1="458.62" y1="159.40" x2="458.62" y2="171.89" stroke="#999" stroke-width="0.35"/>
<path d="M458.62 167.62 L458.39 167.76 L458.08 167.89 L457.73 168.03 L457.35 168.16 L456.94 168.30 L456.50 168.43 L456.06 168.57 L455.59 168.71 L455.11 168.84 L454.61 168.98 L454.11 169.11 L453.59 169.25 L453.06 169.38 L452.52 169.52 L453.06 169.66 L453.59 169.79 L454.11 169.93 L454.61 170.06 L455.11 170.20 L455.59 170.33 L456.06 170.47 L456.50 170.61 L456.94 170.74 L457.35 170.88 L457.73 171.01 L458.08 171.15 L458.39 171.28 L458.62 171.42 L458.62 171.42 L458.85 171.28 L459.16 171.15 L459.51 171.01 L459.89 170.88 L460.30 170.74 L460.74 170.61 L461.18 170.47 L461.65 170.33 L462.13 170.20 L462.63 170.06 L463.13 169.93 L463.65 169.79 L464.18 169.66 L464.72 169.52 L464.18 169.38 L463.65 169.25 L463.13 169.11 L462.63 168.98 L462.13 168.84 L461.65 168.71 L461.18 168.57 L460.74 168.43 L460.30 168.30 L459.89 168.16 L459.51 168.03 L459.16 167.89 L458.85 167.76 L458.62 167.62Z" fill="#111"/>
<text transform="translate(461.12,192.3) rotate(-90)" font-size="7" font-style="italic" text-anchor="end" fill="#1a1a1a">EMB</text>
<line x1="470.74" y1="8.87" x2="470.74" y2="54.68" stroke="#999" stroke-width="0.35"/>
<path d="M470.74 26.88 L470.50 27.21 L470.17 27.54 L469.79 27.87 L469.38 28.19 L468.95 28.52 L468.49 28.85 L468.01 29.18 L467.51 29.51 L467.00 29.84 L466.47 30.17 L465.93 30.49 L465.38 30.82 L464.82 31.15 L464.24 31.48 L464.82 31.81 L465.38 32.14 L465.93 32.47 L466.47 32.79 L467.00 33.12 L467.51 33.45 L468.01 33.78 L468.49 34.11 L468.95 34.44 L469.38 34.77 L469.79 35.09 L470.17 35.42 L470.50 35.75 L470.74 36.08 L470.74 36.08 L470.98 35.75 L471.31 35.42 L471.69 35.09 L472.10 34.77 L472.53 34.44 L472.99 34.11 L473.47 33.78 L473.97 33.45 L474.48 33.12 L475.01 32.79 L475.55 32.47 L476.10 32.14 L476.66 31.81 L477.24 31.48 L476.66 31.15 L476.10 30.82 L475.55 30.49 L475.01 30.17 L474.48 29.84 L473.97 29.51 L473.47 29.18 L472.99 28.85 L472.53 28.52 L472.10 28.19 L471.69 27.87 L471.31 27.54 L470.98 27.21 L470.74 26.88Z" fill="#111"/>
<text transform="translate(473.24,192.3) rotate(-90)" font-size="7" font-style="italic" text-anchor="end" fill="#1a1a1a">RGPD3</text>
<line x1="482.86" y1="156.42" x2="482.86" y2="165.94" stroke="#999" stroke-width="0.35"/>
<path d="M482.86 160.32 L482.63 160.48 L482.32 160.65 L481.97 160.81 L481.59 160.98 L481.18 161.14 L480.74 161.30 L480.30 161.47 L479.83 161.63 L479.35 161.80 L478.85 161.96 L478.35 162.13 L477.83 162.29 L477.30 162.45 L476.76 162.62 L477.30 162.78 L477.83 162.95 L478.35 163.11 L478.85 163.28 L479.35 163.44 L479.83 163.60 L480.30 163.77 L480.74 163.93 L481.18 164.10 L481.59 164.26 L481.97 164.43 L482.32 164.59 L482.63 164.75 L482.86 164.92 L482.86 164.92 L483.09 164.75 L483.40 164.59 L483.75 164.43 L484.13 164.26 L484.54 164.10 L484.98 163.93 L485.42 163.77 L485.89 163.60 L486.37 163.44 L486.87 163.28 L487.37 163.11 L487.89 162.95 L488.42 162.78 L488.96 162.62 L488.42 162.45 L487.89 162.29 L487.37 162.13 L486.87 161.96 L486.37 161.80 L485.89 161.63 L485.42 161.47 L484.98 161.30 L484.54 161.14 L484.13 160.98 L483.75 160.81 L483.40 160.65 L483.09 160.48 L482.86 160.32Z" fill="#111"/>
<text transform="translate(485.36,192.3) rotate(-90)" font-size="7" font-style="italic" text-anchor="end" fill="#1a1a1a">KLHL2</text>
<line x1="494.98" y1="128.46" x2="494.98" y2="152.85" stroke="#999" stroke-width="0.35"/>
<path d="M494.98 139.06 L494.75 139.20 L494.44 139.33 L494.09 139.47 L493.71 139.60 L493.30 139.74 L492.86 139.87 L492.42 140.01 L491.95 140.15 L491.47 140.28 L490.97 140.42 L490.47 140.55 L489.95 140.69 L489.42 140.82 L488.88 140.96 L489.42 141.10 L489.95 141.23 L490.47 141.37 L490.97 141.50 L491.47 141.64 L491.95 141.77 L492.42 141.91 L492.86 142.05 L493.30 142.18 L493.71 142.32 L494.09 142.45 L494.44 142.59 L494.75 142.72 L494.98 142.86 L494.98 142.86 L495.21 142.72 L495.52 142.59 L495.87 142.45 L496.25 142.32 L496.66 142.18 L497.10 142.05 L497.54 141.91 L498.01 141.77 L498.49 141.64 L498.99 141.50 L499.49 141.37 L500.01 141.23 L500.54 141.10 L501.08 140.96 L500.54 140.82 L500.01 140.69 L499.49 140.55 L498.99 140.42 L498.49 140.28 L498.01 140.15 L497.54 140.01 L497.10 139.87 L496.66 139.74 L496.25 139.60 L495.87 139.47 L495.52 139.33 L495.21 139.20 L494.98 139.06Z" fill="#111"/>
<text transform="translate(497.48,192.3) rotate(-90)" font-size="7" font-style="italic" text-anchor="end" fill="#1a1a1a">PRIM2</text>
<line x1="507.10" y1="154.04" x2="507.10" y2="173.68" stroke="#999" stroke-width="0.35"/>
<path d="M507.10 162.10 L506.87 162.27 L506.56 162.43 L506.21 162.60 L505.83 162.76 L505.42 162.92 L504.98 163.09 L504.54 163.25 L504.07 163.42 L503.59 163.58 L503.09 163.75 L502.59 163.91 L502.07 164.07 L501.54 164.24 L501.00 164.40 L501.54 164.57 L502.07 164.73 L502.59 164.90 L503.09 165.06 L503.59 165.22 L504.07 165.39 L504.54 165.55 L504.98 165.72 L505.42 165.88 L505.83 166.05 L506.21 166.21 L506.56 166.37 L506.87 166.54 L507.10 166.70 L507.10 166.70 L507.33 166.54 L507.64 166.37 L507.99 166.21 L508.37 166.05 L508.78 165.88 L509.22 165.72 L509.66 165.55 L510.13 165.39 L510.61 165.22 L511.11 165.06 L511.61 164.90 L512.13 164.73 L512.66 164.57 L513.20 164.40 L512.66 164.24 L512.13 164.07 L511.61 163.91 L511.11 163.75 L510.61 163.58 L510.13 163.42 L509.66 163.25 L509.22 163.09 L508.78 162.92 L508.37 162.76 L507.99 162.60 L507.64 162.43 L507.33 162.27 L507.10 162.10Z" fill="#111"/>
<text transform="translate(509.60,192.3) rotate(-90)" font-size="7" font-style="italic" text-anchor="end" fill="#1a1a1a">ACSM2A</text>
<line x1="519.22" y1="149.28" x2="519.22" y2="164.75" stroke="#999" stroke-width="0.35"/>
<path d="M519.22 160.19 L518.99 160.26 L518.68 160.33 L518.33 160.40 L517.95 160.48 L517.54 160.55 L517.10 160.62 L516.66 160.69 L516.19 160.76 L515.71 160.83 L515.21 160.90 L514.71 160.98 L514.19 161.05 L513.66 161.12 L513.12 161.19 L513.66 161.26 L514.19 161.33 L514.71 161.40 L515.21 161.48 L515.71 161.55 L516.19 161.62 L516.66 161.69 L517.10 161.76 L517.54 161.83 L517.95 161.90 L518.33 161.98 L518.68 162.05 L518.99 162.12 L519.22 162.19 L519.22 162.19 L519.45 162.12 L519.76 162.05 L520.11 161.98 L520.49 161.90 L520.90 161.83 L521.34 161.76 L521.78 161.69 L522.25 161.62 L522.73 161.55 L523.23 161.48 L523.73 161.40 L524.25 161.33 L524.78 161.26 L525.32 161.19 L524.78 161.12 L524.25 161.05 L523.73 160.98 L523.23 160.90 L522.73 160.83 L522.25 160.76 L521.78 160.69 L521.34 160.62 L520.90 160.55 L520.49 160.48 L520.11 160.40 L519.76 160.33 L519.45 160.26 L519.22 160.19Z" fill="#111"/>
<text transform="translate(521.72,192.3) rotate(-90)" font-size="7" font-style="italic" text-anchor="end" fill="#1a1a1a">ACTR3C</text>
<line x1="531.34" y1="165.94" x2="531.34" y2="173.08" stroke="#999" stroke-width="0.35"/>
<path d="M531.34 167.66 L531.11 167.81 L530.80 167.96 L530.45 168.11 L530.07 168.26 L529.66 168.41 L529.22 168.56 L528.78 168.71 L528.31 168.86 L527.83 169.01 L527.33 169.16 L526.83 169.31 L526.31 169.46 L525.78 169.61 L525.24 169.76 L525.78 169.91 L526.31 170.06 L526.83 170.21 L527.33 170.36 L527.83 170.51 L528.31 170.66 L528.78 170.81 L529.22 170.96 L529.66 171.11 L530.07 171.26 L530.45 171.41 L530.80 171.56 L531.11 171.71 L531.34 171.86 L531.34 171.86 L531.57 171.71 L531.88 171.56 L532.23 171.41 L532.61 171.26 L533.02 171.11 L533.46 170.96 L533.90 170.81 L534.37 170.66 L534.85 170.51 L535.35 170.36 L535.85 170.21 L536.37 170.06 L536.90 169.91 L537.44 169.76 L536.90 169.61 L536.37 169.46 L535.85 169.31 L535.35 169.16 L534.85 169.01 L534.37 168.86 L533.90 168.71 L533.46 168.56 L533.02 168.41 L532.61 168.26 L532.23 168.11 L531.88 167.96 L531.57 167.81 L531.34 167.66Z" fill="#111"/>
<text transform="translate(533.84,192.3) rotate(-90)" font-size="7" font-style="italic" text-anchor="end" fill="#1a1a1a">KRT18</text>
<line x1="543.46" y1="152.85" x2="543.46" y2="164.75" stroke="#999" stroke-width="0.35"/>
<path d="M543.46 154.74 L543.23 154.92 L542.92 155.09 L542.57 155.26 L542.19 155.43 L541.78 155.60 L541.34 155.77 L540.90 155.94 L540.43 156.12 L539.95 156.29 L539.45 156.46 L538.95 156.63 L538.43 156.80 L537.90 156.97 L537.36 157.14 L537.90 157.32 L538.43 157.49 L538.95 157.66 L539.45 157.83 L539.95 158.00 L540.43 158.17 L540.90 158.34 L541.34 158.52 L541.78 158.69 L542.19 158.86 L542.57 159.03 L542.92 159.20 L543.23 159.37 L543.46 159.54 L543.46 159.54 L543.69 159.37 L544.00 159.20 L544.35 159.03 L544.73 158.86 L545.14 158.69 L545.58 158.52 L546.02 158.34 L546.49 158.17 L546.97 158.00 L547.47 157.83 L547.97 157.66 L548.49 157.49 L549.02 157.32 L549.56 157.14 L549.02 156.97 L548.49 156.80 L547.97 156.63 L547.47 156.46 L546.97 156.29 L546.49 156.12 L546.02 155.94 L545.58 155.77 L545.14 155.60 L544.73 155.43 L544.35 155.26 L544.00 155.09 L543.69 154.92 L543.46 154.74Z" fill="#111"/>
<text transform="translate(545.96,192.3) rotate(-90)" font-size="7" font-style="italic" text-anchor="end" fill="#1a1a1a">PLEKHM1</text>
<line x1="555.58" y1="164.75" x2="555.58" y2="174.27" stroke="#999" stroke-width="0.35"/>
<path d="M555.58 168.37 L555.35 168.52 L555.04 168.67 L554.69 168.82 L554.31 168.97 L553.90 169.12 L553.46 169.27 L553.02 169.42 L552.55 169.57 L552.07 169.72 L551.57 169.87 L551.07 170.02 L550.55 170.17 L550.02 170.32 L549.48 170.47 L550.02 170.62 L550.55 170.77 L551.07 170.92 L551.57 171.07 L552.07 171.22 L552.55 171.37 L553.02 171.52 L553.46 171.67 L553.90 171.82 L554.31 171.97 L554.69 172.12 L555.04 172.27 L555.35 172.42 L555.58 172.57 L555.58 172.57 L555.81 172.42 L556.12 172.27 L556.47 172.12 L556.85 171.97 L557.26 171.82 L557.70 171.67 L558.14 171.52 L558.61 171.37 L559.09 171.22 L559.59 171.07 L560.09 170.92 L560.61 170.77 L561.14 170.62 L561.68 170.47 L561.14 170.32 L560.61 170.17 L560.09 170.02 L559.59 169.87 L559.09 169.72 L558.61 169.57 L558.14 169.42 L557.70 169.27 L557.26 169.12 L556.85 168.97 L556.47 168.82 L556.12 168.67 L555.81 168.52 L555.58 168.37Z" fill="#111"/>
<text transform="translate(558.08,192.3) rotate(-90)" font-size="7" font-style="italic" text-anchor="end" fill="#1a1a1a">ZNF808</text>
<line x1="567.70" y1="133.22" x2="567.70" y2="171.89" stroke="#999" stroke-width="0.35"/>
<path d="M567.70 158.06 L567.47 158.18 L567.16 158.30 L566.81 158.43 L566.43 158.55 L566.02 158.67 L565.58 158.79 L565.14 158.91 L564.67 159.03 L564.19 159.15 L563.69 159.28 L563.19 159.40 L562.67 159.52 L562.14 159.64 L561.60 159.76 L562.14 159.88 L562.67 160.00 L563.19 160.13 L563.69 160.25 L564.19 160.37 L564.67 160.49 L565.14 160.61 L565.58 160.73 L566.02 160.85 L566.43 160.98 L566.81 161.10 L567.16 161.22 L567.47 161.34 L567.70 161.46 L567.70 161.46 L567.93 161.34 L568.24 161.22 L568.59 161.10 L568.97 160.98 L569.38 160.85 L569.82 160.73 L570.26 160.61 L570.73 160.49 L571.21 160.37 L571.71 160.25 L572.21 160.13 L572.73 160.00 L573.26 159.88 L573.80 159.76 L573.26 159.64 L572.73 159.52 L572.21 159.40 L571.71 159.28 L571.21 159.15 L570.73 159.03 L570.26 158.91 L569.82 158.79 L569.38 158.67 L568.97 158.55 L568.59 158.43 L568.24 158.30 L567.93 158.18 L567.70 158.06Z" fill="#111"/>
<text transform="translate(570.20,192.3) rotate(-90)" font-size="7" font-style="italic" text-anchor="end" fill="#1a1a1a">TYW1</text>
<line x1="579.82" y1="167.13" x2="579.82" y2="176.66" stroke="#999" stroke-width="0.35"/>
<path d="M579.82 168.13 L579.59 168.28 L579.28 168.43 L578.93 168.58 L578.55 168.73 L578.14 168.88 L577.70 169.03 L577.26 169.18 L576.79 169.33 L576.31 169.48 L575.81 169.63 L575.31 169.78 L574.79 169.93 L574.26 170.08 L573.72 170.23 L574.26 170.38 L574.79 170.53 L575.31 170.68 L575.81 170.83 L576.31 170.98 L576.79 171.13 L577.26 171.28 L577.70 171.43 L578.14 171.58 L578.55 171.73 L578.93 171.88 L579.28 172.03 L579.59 172.18 L579.82 172.33 L579.82 172.33 L580.05 172.18 L580.36 172.03 L580.71 171.88 L581.09 171.73 L581.50 171.58 L581.94 171.43 L582.38 171.28 L582.85 171.13 L583.33 170.98 L583.83 170.83 L584.33 170.68 L584.85 170.53 L585.38 170.38 L585.92 170.23 L585.38 170.08 L584.85 169.93 L584.33 169.78 L583.83 169.63 L583.33 169.48 L582.85 169.33 L582.38 169.18 L581.94 169.03 L581.50 168.88 L581.09 168.73 L580.71 168.58 L580.36 168.43 L580.05 168.28 L579.82 168.13Z" fill="#111"/>
<text transform="translate(582.32,192.3) rotate(-90)" font-size="7" font-style="italic" text-anchor="end" fill="#1a1a1a">LINC02798</text>
<line x1="591.94" y1="156.42" x2="591.94" y2="162.97" stroke="#999" stroke-width="0.35"/>
<path d="M591.94 157.84 L591.71 158.01 L591.40 158.18 L591.05 158.35 L590.67 158.52 L590.26 158.70 L589.82 158.87 L589.38 159.04 L588.91 159.21 L588.43 159.38 L587.93 159.55 L587.43 159.72 L586.91 159.90 L586.38 160.07 L585.84 160.24 L586.38 160.41 L586.91 160.58 L587.43 160.75 L587.93 160.92 L588.43 161.10 L588.91 161.27 L589.38 161.44 L589.82 161.61 L590.26 161.78 L590.67 161.95 L591.05 162.12 L591.40 162.30 L591.71 162.47 L591.94 162.64 L591.94 162.64 L592.17 162.47 L592.48 162.30 L592.83 162.12 L593.21 161.95 L593.62 161.78 L594.06 161.61 L594.50 161.44 L594.97 161.27 L595.45 161.10 L595.95 160.92 L596.45 160.75 L596.97 160.58 L597.50 160.41 L598.04 160.24 L597.50 160.07 L596.97 159.90 L596.45 159.72 L595.95 159.55 L595.45 159.38 L594.97 159.21 L594.50 159.04 L594.06 158.87 L593.62 158.70 L593.21 158.52 L592.83 158.35 L592.48 158.18 L592.17 158.01 L591.94 157.84Z" fill="#111"/>
<text transform="translate(594.44,192.3) rotate(-90)" font-size="7" font-style="italic" text-anchor="end" fill="#1a1a1a">FBXW10</text>
<line x1="604.06" y1="152.85" x2="604.06" y2="167.13" stroke="#999" stroke-width="0.35"/>
<path d="M604.06 160.93 L603.83 161.10 L603.52 161.27 L603.17 161.45 L602.79 161.62 L602.38 161.79 L601.94 161.96 L601.50 162.13 L601.03 162.30 L600.55 162.47 L600.05 162.65 L599.55 162.82 L599.03 162.99 L598.50 163.16 L597.96 163.33 L598.50 163.50 L599.03 163.67 L599.55 163.85 L600.05 164.02 L600.55 164.19 L601.03 164.36 L601.50 164.53 L601.94 164.70 L602.38 164.87 L602.79 165.05 L603.17 165.22 L603.52 165.39 L603.83 165.56 L604.06 165.73 L604.06 165.73 L604.29 165.56 L604.60 165.39 L604.95 165.22 L605.33 165.05 L605.74 164.87 L606.18 164.70 L606.62 164.53 L607.09 164.36 L607.57 164.19 L608.07 164.02 L608.57 163.85 L609.09 163.67 L609.62 163.50 L610.16 163.33 L609.62 163.16 L609.09 162.99 L608.57 162.82 L608.07 162.65 L607.57 162.47 L607.09 162.30 L606.62 162.13 L606.18 161.96 L605.74 161.79 L605.33 161.62 L604.95 161.45 L604.60 161.27 L604.29 161.10 L604.06 160.93Z" fill="#111"/>
<text transform="translate(606.56,192.3) rotate(-90)" font-size="7" font-style="italic" text-anchor="end" fill="#1a1a1a">FKBP9</text>
<line x1="616.18" y1="154.04" x2="616.18" y2="165.94" stroke="#999" stroke-width="0.35"/>
<path d="M616.18 159.17 L615.95 159.34 L615.64 159.52 L615.29 159.70 L614.91 159.88 L614.50 160.06 L614.06 160.24 L613.62 160.42 L613.15 160.59 L612.67 160.77 L612.17 160.95 L611.67 161.13 L611.15 161.31 L610.62 161.49 L610.08 161.67 L610.62 161.84 L611.15 162.02 L611.67 162.20 L612.17 162.38 L612.67 162.56 L613.15 162.74 L613.62 162.92 L614.06 163.09 L614.50 163.27 L614.91 163.45 L615.29 163.63 L615.64 163.81 L615.95 163.99 L616.18 164.17 L616.18 164.17 L616.41 163.99 L616.72 163.81 L617.07 163.63 L617.45 163.45 L617.86 163.27 L618.30 163.09 L618.74 162.92 L619.21 162.74 L619.69 162.56 L620.19 162.38 L620.69 162.20 L621.21 162.02 L621.74 161.84 L622.28 161.67 L621.74 161.49 L621.21 161.31 L620.69 161.13 L620.19 160.95 L619.69 160.77 L619.21 160.59 L618.74 160.42 L618.30 160.24 L617.86 160.06 L617.45 159.88 L617.07 159.70 L616.72 159.52 L616.41 159.34 L616.18 159.17Z" fill="#111"/>
<text transform="translate(618.68,192.3) rotate(-90)" font-size="7" font-style="italic" text-anchor="end" fill="#1a1a1a">RABGEF1</text>
<line x1="628.30" y1="162.38" x2="628.30" y2="173.68" stroke="#999" stroke-width="0.35"/>
<path d="M628.30 165.91 L628.07 166.08 L627.76 166.24 L627.41 166.40 L627.03 166.57 L626.62 166.73 L626.18 166.90 L625.74 167.06 L625.27 167.23 L624.79 167.39 L624.29 167.55 L623.79 167.72 L623.27 167.88 L622.74 168.05 L622.20 168.21 L622.74 168.38 L623.27 168.54 L623.79 168.70 L624.29 168.87 L624.79 169.03 L625.27 169.20 L625.74 169.36 L626.18 169.53 L626.62 169.69 L627.03 169.85 L627.41 170.02 L627.76 170.18 L628.07 170.35 L628.30 170.51 L628.30 170.51 L628.53 170.35 L628.84 170.18 L629.19 170.02 L629.57 169.85 L629.98 169.69 L630.42 169.53 L630.86 169.36 L631.33 169.20 L631.81 169.03 L632.31 168.87 L632.81 168.70 L633.33 168.54 L633.86 168.38 L634.40 168.21 L633.86 168.05 L633.33 167.88 L632.81 167.72 L632.31 167.55 L631.81 167.39 L631.33 167.23 L630.86 167.06 L630.42 166.90 L629.98 166.73 L629.57 166.57 L629.19 166.40 L628.84 166.24 L628.53 166.08 L628.30 165.91Z" fill="#111"/>
<text transform="translate(630.80,192.3) rotate(-90)" font-size="7" font-style="italic" text-anchor="end" fill="#1a1a1a">HSD3B1</text>
<line x1="640.42" y1="146.90" x2="640.42" y2="167.13" stroke="#999" stroke-width="0.35"/>
<path d="M640.42 160.79 L640.19 160.96 L639.88 161.12 L639.53 161.29 L639.15 161.45 L638.74 161.62 L638.30 161.78 L637.86 161.94 L637.39 162.11 L636.91 162.27 L636.41 162.44 L635.91 162.60 L635.39 162.77 L634.86 162.93 L634.32 163.09 L634.86 163.26 L635.39 163.42 L635.91 163.59 L636.41 163.75 L636.91 163.92 L637.39 164.08 L637.86 164.24 L638.30 164.41 L638.74 164.57 L639.15 164.74 L639.53 164.90 L639.88 165.07 L640.19 165.23 L640.42 165.39 L640.42 165.39 L640.65 165.23 L640.96 165.07 L641.31 164.90 L641.69 164.74 L642.10 164.57 L642.54 164.41 L642.98 164.24 L643.45 164.08 L643.93 163.92 L644.43 163.75 L644.93 163.59 L645.45 163.42 L645.98 163.26 L646.52 163.09 L645.98 162.93 L645.45 162.77 L644.93 162.60 L644.43 162.44 L643.93 162.27 L643.45 162.11 L642.98 161.94 L642.54 161.78 L642.10 161.62 L641.69 161.45 L641.31 161.29 L640.96 161.12 L640.65 160.96 L640.42 160.79Z" fill="#111"/>
<text transform="translate(642.92,192.3) rotate(-90)" font-size="7" font-style="italic" text-anchor="end" fill="#1a1a1a">FOLH1</text>
<line x1="652.54" y1="148.09" x2="652.54" y2="170.11" stroke="#999" stroke-width="0.35"/>
<path d="M652.54 164.64 L652.31 164.78 L652.00 164.92 L651.65 165.05 L651.27 165.19 L650.86 165.32 L650.42 165.46 L649.98 165.59 L649.51 165.73 L649.03 165.87 L648.53 166.00 L648.03 166.14 L647.51 166.27 L646.98 166.41 L646.44 166.54 L646.98 166.68 L647.51 166.82 L648.03 166.95 L648.53 167.09 L649.03 167.22 L649.51 167.36 L649.98 167.49 L650.42 167.63 L650.86 167.77 L651.27 167.90 L651.65 168.04 L652.00 168.17 L652.31 168.31 L652.54 168.44 L652.54 168.44 L652.77 168.31 L653.08 168.17 L653.43 168.04 L653.81 167.90 L654.22 167.77 L654.66 167.63 L655.10 167.49 L655.57 167.36 L656.05 167.22 L656.55 167.09 L657.05 166.95 L657.57 166.82 L658.10 166.68 L658.64 166.54 L658.10 166.41 L657.57 166.27 L657.05 166.14 L656.55 166.00 L656.05 165.87 L655.57 165.73 L655.10 165.59 L654.66 165.46 L654.22 165.32 L653.81 165.19 L653.43 165.05 L653.08 164.92 L652.77 164.78 L652.54 164.64Z" fill="#111"/>
<text transform="translate(655.04,192.3) rotate(-90)" font-size="7" font-style="italic" text-anchor="end" fill="#1a1a1a">SORD</text>
<line x1="664.66" y1="144.52" x2="664.66" y2="171.89" stroke="#999" stroke-width="0.35"/>
<path d="M664.66 157.39 L664.43 157.52 L664.12 157.66 L663.77 157.79 L663.39 157.93 L662.98 158.06 L662.54 158.20 L662.10 158.34 L661.63 158.47 L661.15 158.61 L660.65 158.74 L660.15 158.88 L659.63 159.01 L659.10 159.15 L658.56 159.29 L659.10 159.42 L659.63 159.56 L660.15 159.69 L660.65 159.83 L661.15 159.96 L661.63 160.10 L662.10 160.24 L662.54 160.37 L662.98 160.51 L663.39 160.64 L663.77 160.78 L664.12 160.91 L664.43 161.05 L664.66 161.19 L664.66 161.19 L664.89 161.05 L665.20 160.91 L665.55 160.78 L665.93 160.64 L666.34 160.51 L666.78 160.37 L667.22 160.24 L667.69 160.10 L668.17 159.96 L668.67 159.83 L669.17 159.69 L669.69 159.56 L670.22 159.42 L670.76 159.29 L670.22 159.15 L669.69 159.01 L669.17 158.88 L668.67 158.74 L668.17 158.61 L667.69 158.47 L667.22 158.34 L666.78 158.20 L666.34 158.06 L665.93 157.93 L665.55 157.79 L665.20 157.66 L664.89 157.52 L664.66 157.39Z" fill="#111"/>
<text transform="translate(667.16,192.3) rotate(-90)" font-size="7" font-style="italic" text-anchor="end" fill="#1a1a1a">GPR89A</text>
<line x1="676.78" y1="161.19" x2="676.78" y2="171.30" stroke="#999" stroke-width="0.35"/>
<path d="M676.78 163.49 L676.55 163.64 L676.24 163.79 L675.89 163.94 L675.51 164.09 L675.10 164.24 L674.66 164.39 L674.22 164.54 L673.75 164.69 L673.27 164.84 L672.77 164.99 L672.27 165.14 L671.75 165.29 L671.22 165.44 L670.68 165.59 L671.22 165.74 L671.75 165.89 L672.27 166.04 L672.77 166.19 L673.27 166.34 L673.75 166.49 L674.22 166.64 L674.66 166.79 L675.10 166.94 L675.51 167.09 L675.89 167.24 L676.24 167.39 L676.55 167.54 L676.78 167.69 L676.78 167.69 L677.01 167.54 L677.32 167.39 L677.67 167.24 L678.05 167.09 L678.46 166.94 L678.90 166.79 L679.34 166.64 L679.81 166.49 L680.29 166.34 L680.79 166.19 L681.29 166.04 L681.81 165.89 L682.34 165.74 L682.88 165.59 L682.34 165.44 L681.81 165.29 L681.29 165.14 L680.79 164.99 L680.29 164.84 L679.81 164.69 L679.34 164.54 L678.90 164.39 L678.46 164.24 L678.05 164.09 L677.67 163.94 L677.32 163.79 L677.01 163.64 L676.78 163.49Z" fill="#111"/>
<text transform="translate(679.28,192.3) rotate(-90)" font-size="7" font-style="italic" text-anchor="end" fill="#1a1a1a">TRIM16</text>
<text x="0.4" y="272.1" font-size="12.8" font-weight="bold" fill="#000" stroke="#000" stroke-width="0.35">c</text>
<text x="228" y="273.3" font-size="9.3" text-anchor="middle" fill="#1a1a1a">Superpopulation</text>
<text x="228.3" y="671.2" font-size="9.3" text-anchor="middle" fill="#1a1a1a">Haplotype</text>
<text x="458" y="279.6" font-size="8.7" fill="#1a1a1a">Paralog</text>
<rect x="0.40" y="278.1" width="6.05" height="3.8" fill="#ff0000"/>
<rect x="7.25" y="278.1" width="6.05" height="3.8" fill="#ff0000"/>
<rect x="14.10" y="278.1" width="6.05" height="3.8" fill="#ff0000"/>
<rect x="20.95" y="278.1" width="6.05" height="3.8" fill="#ff0000"/>
<rect x="27.79" y="278.1" width="6.05" height="3.8" fill="#ffa500"/>
<rect x="34.64" y="278.1" width="6.05" height="3.8" fill="#ffa500"/>
<rect x="41.49" y="278.1" width="6.05" height="3.8" fill="#ff0000"/>
<rect x="48.34" y="278.1" width="6.05" height="3.8" fill="#008000"/>
<rect x="55.19" y="278.1" width="6.05" height="3.8" fill="#008000"/>
<rect x="62.04" y="278.1" width="6.05" height="3.8" fill="#800080"/>
<rect x="68.88" y="278.1" width="6.05" height="3.8" fill="#008000"/>
<rect x="75.73" y="278.1" width="6.05" height="3.8" fill="#ffa500"/>
<rect x="82.58" y="278.1" width="6.05" height="3.8" fill="#ffa500"/>
<rect x="89.43" y="278.1" width="6.05" height="3.8" fill="#ffa500"/>
<rect x="96.28" y="278.1" width="6.05" height="3.8" fill="#ffa500"/>
<rect x="103.13" y="278.1" width="6.05" height="3.8" fill="#ff0000"/>
<rect x="109.98" y="278.1" width="6.05" height="3.8" fill="#ffa500"/>
<rect x="116.82" y="278.1" width="6.05" height="3.8" fill="#0000ff"/>
<rect x="123.67" y="278.1" width="6.05" height="3.8" fill="#ff0000"/>
<rect x="130.52" y="278.1" width="6.05" height="3.8" fill="#ff0000"/>
<rect x="137.37" y="278.1" width="6.05" height="3.8" fill="#ffa500"/>
<rect x="144.22" y="278.1" width="6.05" height="3.8" fill="#ff0000"/>
<rect x="151.07" y="278.1" width="6.05" height="3.8" fill="#ffa500"/>
<rect x="157.92" y="278.1" width="6.05" height="3.8" fill="#ffa500"/>
<rect x="164.76" y="278.1" width="6.05" height="3.8" fill="#ff0000"/>
<rect x="171.61" y="278.1" width="6.05" height="3.8" fill="#008000"/>
<rect x="178.46" y="278.1" width="6.05" height="3.8" fill="#ffa500"/>
<rect x="185.31" y="278.1" width="6.05" height="3.8" fill="#ffa500"/>
<rect x="192.16" y="278.1" width="6.05" height="3.8" fill="#ffa500"/>
<rect x="199.01" y="278.1" width="6.05" height="3.8" fill="#800080"/>
<rect x="205.85" y="278.1" width="6.05" height="3.8" fill="#ffa500"/>
<rect x="212.70" y="278.1" width="6.05" height="3.8" fill="#ff0000"/>
<rect x="219.55" y="278.1" width="6.05" height="3.8" fill="#800080"/>
<rect x="226.40" y="278.1" width="6.05" height="3.8" fill="#ff0000"/>
<rect x="233.25" y="278.1" width="6.05" height="3.8" fill="#ffa500"/>
<rect x="240.10" y="278.1" width="6.05" height="3.8" fill="#ffa500"/>
<rect x="246.95" y="278.1" width="6.05" height="3.8" fill="#ff0000"/>
<rect x="253.79" y="278.1" width="6.05" height="3.8" fill="#ffa500"/>
<rect x="260.64" y="278.1" width="6.05" height="3.8" fill="#008000"/>
<rect x="267.49" y="278.1" width="6.05" height="3.8" fill="#008000"/>
<rect x="274.34" y="278.1" width="6.05" height="3.8" fill="#008000"/>
<rect x="281.19" y="278.1" width="6.05" height="3.8" fill="#ffa500"/>
<rect x="288.04" y="278.1" width="6.05" height="3.8" fill="#ff0000"/>
<rect x="294.88" y="278.1" width="6.05" height="3.8" fill="#ffa500"/>
<rect x="301.73" y="278.1" width="6.05" height="3.8" fill="#ffa500"/>
<rect x="308.58" y="278.1" width="6.05" height="3.8" fill="#ffa500"/>
<rect x="315.43" y="278.1" width="6.05" height="3.8" fill="#ffa500"/>
<rect x="322.28" y="278.1" width="6.05" height="3.8" fill="#ffa500"/>
<rect x="329.13" y="278.1" width="6.05" height="3.8" fill="#ffa500"/>
<rect x="335.98" y="278.1" width="6.05" height="3.8" fill="#ff0000"/>
<rect x="342.82" y="278.1" width="6.05" height="3.8" fill="#ff0000"/>
<rect x="349.67" y="278.1" width="6.05" height="3.8" fill="#ff0000"/>
<rect x="356.52" y="278.1" width="6.05" height="3.8" fill="#ff0000"/>
<rect x="363.37" y="278.1" width="6.05" height="3.8" fill="#ffa500"/>
<rect x="370.22" y="278.1" width="6.05" height="3.8" fill="#ff0000"/>
<rect x="377.07" y="278.1" width="6.05" height="3.8" fill="#008000"/>
<rect x="383.92" y="278.1" width="6.05" height="3.8" fill="#ff0000"/>
<rect x="390.76" y="278.1" width="6.05" height="3.8" fill="#ff0000"/>
<rect x="397.61" y="278.1" width="6.05" height="3.8" fill="#ffa500"/>
<rect x="404.46" y="278.1" width="6.05" height="3.8" fill="#ffa500"/>
<rect x="411.31" y="278.1" width="6.05" height="3.8" fill="#ff0000"/>
<rect x="418.16" y="278.1" width="6.05" height="3.8" fill="#ff0000"/>
<rect x="425.01" y="278.1" width="6.05" height="3.8" fill="#ff0000"/>
<rect x="431.85" y="278.1" width="6.05" height="3.8" fill="#ffa500"/>
<rect x="438.70" y="278.1" width="6.05" height="3.8" fill="#ffa500"/>
<rect x="445.55" y="278.1" width="6.05" height="3.8" fill="#ffa500"/>
<rect x="0.3" y="282.40" width="451.5" height="5.90" fill="#000"/>
<rect x="0.3" y="289.91" width="451.5" height="19.00" fill="#000"/>
<rect x="0.3" y="310.52" width="451.5" height="45.20" fill="#000"/>
<rect x="0.3" y="357.33" width="451.5" height="5.90" fill="#000"/>
<rect x="0.3" y="364.84" width="451.5" height="19.00" fill="#000"/>
<rect x="0.3" y="385.45" width="451.5" height="12.45" fill="#000"/>
<rect x="0.3" y="399.51" width="451.5" height="25.55" fill="#000"/>
<rect x="0.3" y="426.67" width="451.5" height="5.90" fill="#000"/>
<rect x="0.3" y="434.18" width="451.5" height="25.55" fill="#000"/>
<rect x="0.3" y="461.34" width="451.5" height="12.45" fill="#000"/>
<rect x="0.3" y="475.40" width="451.5" height="5.90" fill="#000"/>
<rect x="0.3" y="482.91" width="451.5" height="12.45" fill="#000"/>
<rect x="0.3" y="496.97" width="451.5" height="5.90" fill="#000"/>
<rect x="0.3" y="504.48" width="451.5" height="12.45" fill="#000"/>
<rect x="0.3" y="518.54" width="451.5" height="5.90" fill="#000"/>
<rect x="0.3" y="526.05" width="451.5" height="5.90" fill="#000"/>
<rect x="0.3" y="533.56" width="451.5" height="5.90" fill="#000"/>
<rect x="0.3" y="541.07" width="451.5" height="25.55" fill="#000"/>
<rect x="0.3" y="568.23" width="451.5" height="32.10" fill="#000"/>
<rect x="0.3" y="601.94" width="451.5" height="5.90" fill="#000"/>
<rect x="0.3" y="609.45" width="451.5" height="5.90" fill="#000"/>
<rect x="0.3" y="616.96" width="451.5" height="5.90" fill="#000"/>
<rect x="75.28" y="281.65" width="6.95" height="7.40" fill="#fff"/>
<rect x="123.22" y="281.65" width="6.95" height="7.40" fill="#fff"/>
<rect x="191.71" y="281.65" width="6.95" height="7.40" fill="#fff"/>
<rect x="205.40" y="281.65" width="13.80" height="7.40" fill="#fff"/>
<rect x="232.80" y="281.65" width="6.95" height="7.40" fill="#fff"/>
<rect x="246.50" y="281.65" width="6.95" height="7.40" fill="#fff"/>
<rect x="335.53" y="281.65" width="6.95" height="7.40" fill="#fff"/>
<rect x="397.16" y="281.65" width="6.95" height="7.40" fill="#fff"/>
<rect x="410.86" y="281.65" width="6.95" height="7.40" fill="#fff"/>
<rect x="34.19" y="282.35" width="6.95" height="6.00" fill="#0b7adf"/>
<rect x="47.89" y="282.35" width="13.80" height="6.00" fill="#0b7adf"/>
<rect x="184.86" y="282.35" width="6.95" height="6.00" fill="#0b7adf"/>
<rect x="273.89" y="282.35" width="6.95" height="6.00" fill="#0b7adf"/>
<rect x="287.59" y="282.35" width="6.95" height="6.00" fill="#0b7adf"/>
<rect x="328.68" y="282.35" width="6.95" height="6.00" fill="#0b7adf"/>
<rect x="362.92" y="282.35" width="6.95" height="6.00" fill="#0b7adf"/>
<rect x="417.71" y="282.35" width="34.34" height="6.00" fill="#0b7adf"/>
<rect x="356.07" y="289.16" width="13.80" height="7.02" fill="#fff"/>
<rect x="431.40" y="289.16" width="20.65" height="7.02" fill="#fff"/>
<rect x="75.28" y="289.86" width="6.95" height="6.32" fill="#0b7adf"/>
<rect x="88.98" y="289.86" width="6.95" height="6.32" fill="#0b7adf"/>
<rect x="356.07" y="296.08" width="13.80" height="6.65" fill="#fff"/>
<rect x="431.40" y="296.08" width="20.65" height="6.65" fill="#fff"/>
<rect x="75.28" y="296.08" width="6.95" height="6.65" fill="#0b7adf"/>
<rect x="88.98" y="296.08" width="6.95" height="6.65" fill="#0b7adf"/>
<rect x="-0.05" y="310.47" width="20.65" height="6.32" fill="#0b7adf"/>
<rect x="314.98" y="310.47" width="116.52" height="6.32" fill="#0b7adf"/>
<rect x="445.10" y="310.47" width="6.95" height="6.32" fill="#0b7adf"/>
<rect x="20.50" y="316.69" width="6.95" height="6.65" fill="#fff"/>
<rect x="34.19" y="316.69" width="13.80" height="6.65" fill="#fff"/>
<rect x="-0.05" y="316.69" width="20.65" height="6.65" fill="#0b7adf"/>
<rect x="314.98" y="316.69" width="116.52" height="6.65" fill="#0b7adf"/>
<rect x="445.10" y="316.69" width="6.95" height="6.65" fill="#0b7adf"/>
<rect x="-0.05" y="323.25" width="48.04" height="6.65" fill="#fff"/>
<rect x="61.59" y="323.25" width="6.95" height="6.65" fill="#fff"/>
<rect x="314.98" y="323.25" width="116.52" height="6.65" fill="#fff"/>
<rect x="445.10" y="323.25" width="6.95" height="6.65" fill="#0b7adf"/>
<rect x="-0.05" y="329.80" width="48.04" height="6.65" fill="#fff"/>
<rect x="61.59" y="329.80" width="6.95" height="6.65" fill="#fff"/>
<rect x="314.98" y="329.80" width="6.95" height="6.65" fill="#fff"/>
<rect x="328.68" y="329.80" width="102.83" height="6.65" fill="#fff"/>
<rect x="150.62" y="329.80" width="6.95" height="6.65" fill="#0b7adf"/>
<rect x="20.50" y="336.34" width="27.49" height="6.65" fill="#fff"/>
<rect x="61.59" y="336.34" width="6.95" height="6.65" fill="#fff"/>
<rect x="150.62" y="336.34" width="6.95" height="6.65" fill="#fff"/>
<rect x="321.83" y="336.34" width="6.95" height="6.65" fill="#fff"/>
<rect x="445.10" y="336.34" width="6.95" height="6.65" fill="#0b7adf"/>
<rect x="27.34" y="342.89" width="6.95" height="6.65" fill="#fff"/>
<rect x="61.59" y="342.89" width="6.95" height="6.65" fill="#fff"/>
<rect x="-0.05" y="357.28" width="6.95" height="6.00" fill="#0b7adf"/>
<rect x="102.68" y="357.28" width="6.95" height="6.00" fill="#0b7adf"/>
<rect x="294.43" y="357.28" width="6.95" height="6.00" fill="#0b7adf"/>
<rect x="417.71" y="357.28" width="6.95" height="6.00" fill="#0b7adf"/>
<rect x="27.34" y="364.09" width="6.95" height="7.02" fill="#fff"/>
<rect x="54.74" y="364.09" width="6.95" height="7.02" fill="#fff"/>
<rect x="95.83" y="364.09" width="13.80" height="7.02" fill="#fff"/>
<rect x="253.34" y="364.09" width="6.95" height="7.02" fill="#fff"/>
<rect x="438.25" y="364.09" width="6.95" height="7.02" fill="#fff"/>
<rect x="-0.05" y="364.79" width="6.95" height="6.32" fill="#0b7adf"/>
<rect x="164.31" y="364.79" width="6.95" height="6.32" fill="#0b7adf"/>
<rect x="294.43" y="364.79" width="6.95" height="6.32" fill="#0b7adf"/>
<rect x="349.22" y="364.79" width="6.95" height="6.32" fill="#0b7adf"/>
<rect x="417.71" y="364.79" width="6.95" height="6.32" fill="#0b7adf"/>
<rect x="54.74" y="371.01" width="6.95" height="6.65" fill="#fff"/>
<rect x="102.68" y="371.01" width="6.95" height="6.65" fill="#fff"/>
<rect x="-0.05" y="371.01" width="6.95" height="6.65" fill="#0b7adf"/>
<rect x="164.31" y="371.01" width="6.95" height="6.65" fill="#0b7adf"/>
<rect x="294.43" y="371.01" width="6.95" height="6.65" fill="#0b7adf"/>
<rect x="349.22" y="371.01" width="6.95" height="6.65" fill="#0b7adf"/>
<rect x="417.71" y="371.01" width="6.95" height="6.65" fill="#0b7adf"/>
<rect x="212.25" y="384.70" width="13.80" height="7.02" fill="#fff"/>
<rect x="13.65" y="385.40" width="6.95" height="6.32" fill="#0b7adf"/>
<rect x="356.07" y="385.40" width="6.95" height="6.32" fill="#0b7adf"/>
<rect x="27.34" y="391.62" width="13.80" height="7.02" fill="#fff"/>
<rect x="75.28" y="391.62" width="6.95" height="7.02" fill="#fff"/>
<rect x="178.01" y="391.62" width="6.95" height="7.02" fill="#fff"/>
<rect x="205.40" y="391.62" width="20.65" height="7.02" fill="#fff"/>
<rect x="301.28" y="391.62" width="13.80" height="7.02" fill="#fff"/>
<rect x="321.83" y="391.62" width="13.80" height="7.02" fill="#fff"/>
<rect x="369.77" y="391.62" width="6.95" height="7.02" fill="#fff"/>
<rect x="431.40" y="391.62" width="6.95" height="7.02" fill="#fff"/>
<rect x="13.65" y="391.62" width="6.95" height="6.32" fill="#0b7adf"/>
<rect x="356.07" y="391.62" width="6.95" height="6.32" fill="#0b7adf"/>
<rect x="20.50" y="398.76" width="6.95" height="7.02" fill="#fff"/>
<rect x="294.43" y="398.76" width="61.74" height="7.02" fill="#fff"/>
<rect x="431.40" y="398.76" width="6.95" height="7.02" fill="#fff"/>
<rect x="-0.05" y="399.46" width="13.80" height="6.32" fill="#0b7adf"/>
<rect x="225.95" y="399.46" width="6.95" height="6.32" fill="#0b7adf"/>
<rect x="438.25" y="399.46" width="6.95" height="6.32" fill="#0b7adf"/>
<rect x="20.50" y="405.68" width="6.95" height="6.65" fill="#fff"/>
<rect x="280.74" y="405.68" width="75.43" height="6.65" fill="#fff"/>
<rect x="431.40" y="405.68" width="6.95" height="6.65" fill="#fff"/>
<rect x="-0.05" y="405.68" width="13.80" height="6.65" fill="#0b7adf"/>
<rect x="-0.05" y="412.23" width="13.80" height="6.65" fill="#fff"/>
<rect x="225.95" y="412.23" width="6.95" height="6.65" fill="#fff"/>
<rect x="294.43" y="412.23" width="41.19" height="6.65" fill="#fff"/>
<rect x="431.40" y="412.23" width="13.80" height="6.65" fill="#fff"/>
<rect x="356.07" y="412.23" width="6.95" height="6.65" fill="#0b7adf"/>
<rect x="20.50" y="433.43" width="6.95" height="7.02" fill="#fff"/>
<rect x="335.53" y="433.43" width="20.65" height="7.02" fill="#fff"/>
<rect x="294.43" y="434.13" width="6.95" height="6.32" fill="#0b7adf"/>
<rect x="369.77" y="434.13" width="6.95" height="6.32" fill="#0b7adf"/>
<rect x="20.50" y="440.35" width="6.95" height="6.65" fill="#fff"/>
<rect x="335.53" y="440.35" width="20.65" height="6.65" fill="#fff"/>
<rect x="369.77" y="440.35" width="6.95" height="6.65" fill="#0b7adf"/>
<rect x="232.80" y="460.59" width="13.80" height="7.02" fill="#fff"/>
<rect x="308.13" y="460.59" width="6.95" height="7.02" fill="#fff"/>
<rect x="-0.05" y="467.51" width="6.95" height="7.02" fill="#fff"/>
<rect x="314.98" y="467.51" width="6.95" height="7.02" fill="#fff"/>
<rect x="335.53" y="467.51" width="6.95" height="7.02" fill="#fff"/>
<rect x="431.40" y="467.51" width="6.95" height="6.32" fill="#0b7adf"/>
<rect x="109.53" y="496.22" width="6.95" height="7.40" fill="#fff"/>
<rect x="150.62" y="496.22" width="6.95" height="7.40" fill="#fff"/>
<rect x="164.31" y="496.22" width="48.04" height="7.40" fill="#fff"/>
<rect x="301.28" y="496.22" width="6.95" height="7.40" fill="#fff"/>
<rect x="356.07" y="496.22" width="6.95" height="7.40" fill="#fff"/>
<rect x="397.16" y="496.22" width="13.80" height="7.40" fill="#fff"/>
<rect x="150.62" y="503.73" width="13.80" height="7.02" fill="#fff"/>
<rect x="178.01" y="503.73" width="6.95" height="7.02" fill="#fff"/>
<rect x="431.40" y="503.73" width="6.95" height="7.02" fill="#fff"/>
<rect x="6.80" y="510.65" width="6.95" height="7.03" fill="#fff"/>
<rect x="47.89" y="510.65" width="6.95" height="7.03" fill="#fff"/>
<rect x="95.83" y="510.65" width="13.80" height="7.03" fill="#fff"/>
<rect x="116.37" y="510.65" width="6.95" height="7.03" fill="#fff"/>
<rect x="150.62" y="510.65" width="20.65" height="7.03" fill="#fff"/>
<rect x="178.01" y="510.65" width="27.49" height="7.03" fill="#fff"/>
<rect x="212.25" y="510.65" width="6.95" height="7.03" fill="#fff"/>
<rect x="335.53" y="510.65" width="6.95" height="7.03" fill="#fff"/>
<rect x="410.86" y="510.65" width="6.95" height="7.03" fill="#fff"/>
<rect x="424.56" y="510.65" width="13.80" height="7.03" fill="#fff"/>
<rect x="328.68" y="526.00" width="6.95" height="6.00" fill="#0b7adf"/>
<rect x="-0.05" y="541.02" width="6.95" height="6.33" fill="#0b7adf"/>
<rect x="41.04" y="541.02" width="6.95" height="6.33" fill="#0b7adf"/>
<rect x="68.43" y="541.02" width="6.95" height="6.33" fill="#0b7adf"/>
<rect x="314.98" y="541.02" width="13.80" height="6.33" fill="#0b7adf"/>
<rect x="321.83" y="547.25" width="6.95" height="6.65" fill="#0b7adf"/>
<rect x="-0.05" y="553.79" width="6.95" height="6.65" fill="#0b7adf"/>
<rect x="68.43" y="553.79" width="6.95" height="6.65" fill="#0b7adf"/>
<rect x="314.98" y="553.79" width="13.80" height="6.65" fill="#0b7adf"/>
<rect x="-0.05" y="567.48" width="20.65" height="7.03" fill="#fff"/>
<rect x="109.53" y="567.48" width="41.19" height="7.03" fill="#fff"/>
<rect x="47.89" y="568.18" width="48.04" height="6.33" fill="#0b7adf"/>
<rect x="157.47" y="568.18" width="6.95" height="6.33" fill="#0b7adf"/>
<rect x="273.89" y="568.18" width="6.95" height="6.33" fill="#0b7adf"/>
<rect x="301.28" y="568.18" width="20.65" height="6.33" fill="#0b7adf"/>
<rect x="404.01" y="568.18" width="27.49" height="6.33" fill="#0b7adf"/>
<rect x="438.25" y="568.18" width="6.95" height="6.33" fill="#0b7adf"/>
<rect x="-0.05" y="574.40" width="20.65" height="6.65" fill="#fff"/>
<rect x="109.53" y="574.40" width="41.19" height="6.65" fill="#fff"/>
<rect x="47.89" y="574.40" width="48.04" height="6.65" fill="#0b7adf"/>
<rect x="314.98" y="574.40" width="6.95" height="6.65" fill="#0b7adf"/>
<rect x="410.86" y="574.40" width="20.65" height="6.65" fill="#0b7adf"/>
<rect x="-0.05" y="580.95" width="20.65" height="6.65" fill="#fff"/>
<rect x="95.83" y="580.95" width="6.95" height="6.65" fill="#fff"/>
<rect x="116.37" y="580.95" width="34.34" height="6.65" fill="#fff"/>
<rect x="54.74" y="587.50" width="48.04" height="6.65" fill="#fff"/>
<rect x="171.16" y="587.50" width="6.95" height="6.65" fill="#fff"/>
<rect x="314.98" y="587.50" width="6.95" height="6.65" fill="#fff"/>
<rect x="376.62" y="587.50" width="6.95" height="6.65" fill="#fff"/>
<rect x="410.86" y="587.50" width="20.65" height="6.65" fill="#fff"/>
<rect x="356.07" y="295.53" width="13.80" height="1.20" fill="#fff"/>
<rect x="431.40" y="295.53" width="20.65" height="1.20" fill="#fff"/>
<rect x="20.50" y="322.69" width="6.95" height="1.20" fill="#fff"/>
<rect x="34.19" y="322.69" width="13.80" height="1.20" fill="#fff"/>
<rect x="-0.05" y="329.24" width="48.04" height="1.20" fill="#fff"/>
<rect x="61.59" y="329.24" width="6.95" height="1.20" fill="#fff"/>
<rect x="314.98" y="329.24" width="6.95" height="1.20" fill="#fff"/>
<rect x="328.68" y="329.24" width="102.83" height="1.20" fill="#fff"/>
<rect x="20.50" y="335.79" width="27.49" height="1.20" fill="#fff"/>
<rect x="61.59" y="335.79" width="6.95" height="1.20" fill="#fff"/>
<rect x="27.34" y="342.34" width="6.95" height="1.20" fill="#fff"/>
<rect x="61.59" y="342.34" width="6.95" height="1.20" fill="#fff"/>
<rect x="54.74" y="370.46" width="6.95" height="1.20" fill="#fff"/>
<rect x="102.68" y="370.46" width="6.95" height="1.20" fill="#fff"/>
<rect x="212.25" y="391.07" width="13.80" height="1.20" fill="#fff"/>
<rect x="20.50" y="405.13" width="6.95" height="1.20" fill="#fff"/>
<rect x="294.43" y="405.13" width="61.74" height="1.20" fill="#fff"/>
<rect x="431.40" y="405.13" width="6.95" height="1.20" fill="#fff"/>
<rect x="294.43" y="411.68" width="41.19" height="1.20" fill="#fff"/>
<rect x="431.40" y="411.68" width="6.95" height="1.20" fill="#fff"/>
<rect x="20.50" y="439.80" width="6.95" height="1.20" fill="#fff"/>
<rect x="335.53" y="439.80" width="20.65" height="1.20" fill="#fff"/>
<rect x="150.62" y="510.10" width="13.80" height="1.20" fill="#fff"/>
<rect x="178.01" y="510.10" width="6.95" height="1.20" fill="#fff"/>
<rect x="431.40" y="510.10" width="6.95" height="1.20" fill="#fff"/>
<rect x="-0.05" y="573.86" width="20.65" height="1.20" fill="#fff"/>
<rect x="109.53" y="573.86" width="41.19" height="1.20" fill="#fff"/>
<rect x="-0.05" y="580.40" width="20.65" height="1.20" fill="#fff"/>
<rect x="116.37" y="580.40" width="34.34" height="1.20" fill="#fff"/>
<rect x="95.83" y="586.95" width="6.95" height="1.20" fill="#fff"/>
<rect x="75.28" y="295.53" width="6.95" height="1.20" fill="#0b7adf"/>
<rect x="88.98" y="295.53" width="6.95" height="1.20" fill="#0b7adf"/>
<rect x="-0.05" y="316.14" width="20.65" height="1.20" fill="#0b7adf"/>
<rect x="314.98" y="316.14" width="116.52" height="1.20" fill="#0b7adf"/>
<rect x="445.10" y="316.14" width="6.95" height="1.20" fill="#0b7adf"/>
<rect x="445.10" y="322.69" width="6.95" height="1.20" fill="#0b7adf"/>
<rect x="-0.05" y="370.46" width="6.95" height="1.20" fill="#0b7adf"/>
<rect x="164.31" y="370.46" width="6.95" height="1.20" fill="#0b7adf"/>
<rect x="294.43" y="370.46" width="6.95" height="1.20" fill="#0b7adf"/>
<rect x="349.22" y="370.46" width="6.95" height="1.20" fill="#0b7adf"/>
<rect x="417.71" y="370.46" width="6.95" height="1.20" fill="#0b7adf"/>
<rect x="13.65" y="391.07" width="6.95" height="1.20" fill="#0b7adf"/>
<rect x="356.07" y="391.07" width="6.95" height="1.20" fill="#0b7adf"/>
<rect x="-0.05" y="405.13" width="13.80" height="1.20" fill="#0b7adf"/>
<rect x="369.77" y="439.80" width="6.95" height="1.20" fill="#0b7adf"/>
<rect x="321.83" y="546.70" width="6.95" height="1.20" fill="#0b7adf"/>
<rect x="321.83" y="553.25" width="6.95" height="1.20" fill="#0b7adf"/>
<rect x="47.89" y="573.86" width="48.04" height="1.20" fill="#0b7adf"/>
<rect x="314.98" y="573.86" width="6.95" height="1.20" fill="#0b7adf"/>
<rect x="410.86" y="573.86" width="20.65" height="1.20" fill="#0b7adf"/>
<rect x="6.47" y="282.4" width="0.75" height="340.46" fill="#fff" opacity="0.72"/>
<rect x="13.32" y="282.4" width="0.75" height="340.46" fill="#fff" opacity="0.72"/>
<rect x="20.17" y="282.4" width="0.75" height="340.46" fill="#fff" opacity="0.72"/>
<rect x="27.02" y="282.4" width="0.75" height="340.46" fill="#fff" opacity="0.72"/>
<rect x="33.87" y="282.4" width="0.75" height="340.46" fill="#fff" opacity="0.72"/>
<rect x="40.72" y="282.4" width="0.75" height="340.46" fill="#fff" opacity="0.72"/>
<rect x="47.56" y="282.4" width="0.75" height="340.46" fill="#fff" opacity="0.72"/>
<rect x="54.41" y="282.4" width="0.75" height="340.46" fill="#fff" opacity="0.72"/>
<rect x="61.26" y="282.4" width="0.75" height="340.46" fill="#fff" opacity="0.72"/>
<rect x="68.11" y="282.4" width="0.75" height="340.46" fill="#fff" opacity="0.72"/>
<rect x="74.96" y="282.4" width="0.75" height="340.46" fill="#fff" opacity="0.72"/>
<rect x="81.81" y="282.4" width="0.75" height="340.46" fill="#fff" opacity="0.72"/>
<rect x="88.66" y="282.4" width="0.75" height="340.46" fill="#fff" opacity="0.72"/>
<rect x="95.50" y="282.4" width="0.75" height="340.46" fill="#fff" opacity="0.72"/>
<rect x="102.35" y="282.4" width="0.75" height="340.46" fill="#fff" opacity="0.72"/>
<rect x="109.20" y="282.4" width="0.75" height="340.46" fill="#fff" opacity="0.72"/>
<rect x="116.05" y="282.4" width="0.75" height="340.46" fill="#fff" opacity="0.72"/>
<rect x="122.90" y="282.4" width="0.75" height="340.46" fill="#fff" opacity="0.72"/>
<rect x="129.75" y="282.4" width="0.75" height="340.46" fill="#fff" opacity="0.72"/>
<rect x="136.59" y="282.4" width="0.75" height="340.46" fill="#fff" opacity="0.72"/>
<rect x="143.44" y="282.4" width="0.75" height="340.46" fill="#fff" opacity="0.72"/>
<rect x="150.29" y="282.4" width="0.75" height="340.46" fill="#fff" opacity="0.72"/>
<rect x="157.14" y="282.4" width="0.75" height="340.46" fill="#fff" opacity="0.72"/>
<rect x="163.99" y="282.4" width="0.75" height="340.46" fill="#fff" opacity="0.72"/>
<rect x="170.84" y="282.4" width="0.75" height="340.46" fill="#fff" opacity="0.72"/>
<rect x="177.69" y="282.4" width="0.75" height="340.46" fill="#fff" opacity="0.72"/>
<rect x="184.53" y="282.4" width="0.75" height="340.46" fill="#fff" opacity="0.72"/>
<rect x="191.38" y="282.4" width="0.75" height="340.46" fill="#fff" opacity="0.72"/>
<rect x="198.23" y="282.4" width="0.75" height="340.46" fill="#fff" opacity="0.72"/>
<rect x="205.08" y="282.4" width="0.75" height="340.46" fill="#fff" opacity="0.72"/>
<rect x="211.93" y="282.4" width="0.75" height="340.46" fill="#fff" opacity="0.72"/>
<rect x="218.78" y="282.4" width="0.75" height="340.46" fill="#fff" opacity="0.72"/>
<rect x="225.62" y="282.4" width="0.75" height="340.46" fill="#fff" opacity="0.72"/>
<rect x="232.47" y="282.4" width="0.75" height="340.46" fill="#fff" opacity="0.72"/>
<rect x="239.32" y="282.4" width="0.75" height="340.46" fill="#fff" opacity="0.72"/>
<rect x="246.17" y="282.4" width="0.75" height="340.46" fill="#fff" opacity="0.72"/>
<rect x="253.02" y="282.4" width="0.75" height="340.46" fill="#fff" opacity="0.72"/>
<rect x="259.87" y="282.4" width="0.75" height="340.46" fill="#fff" opacity="0.72"/>
<rect x="266.72" y="282.4" width="0.75" height="340.46" fill="#fff" opacity="0.72"/>
<rect x="273.56" y="282.4" width="0.75" height="340.46" fill="#fff" opacity="0.72"/>
<rect x="280.41" y="282.4" width="0.75" height="340.46" fill="#fff" opacity="0.72"/>
<rect x="287.26" y="282.4" width="0.75" height="340.46" fill="#fff" opacity="0.72"/>
<rect x="294.11" y="282.4" width="0.75" height="340.46" fill="#fff" opacity="0.72"/>
<rect x="300.96" y="282.4" width="0.75" height="340.46" fill="#fff" opacity="0.72"/>
<rect x="307.81" y="282.4" width="0.75" height="340.46" fill="#fff" opacity="0.72"/>
<rect x="314.66" y="282.4" width="0.75" height="340.46" fill="#fff" opacity="0.72"/>
<rect x="321.50" y="282.4" width="0.75" height="340.46" fill="#fff" opacity="0.72"/>
<rect x="328.35" y="282.4" width="0.75" height="340.46" fill="#fff" opacity="0.72"/>
<rect x="335.20" y="282.4" width="0.75" height="340.46" fill="#fff" opacity="0.72"/>
<rect x="342.05" y="282.4" width="0.75" height="340.46" fill="#fff" opacity="0.72"/>
<rect x="348.90" y="282.4" width="0.75" height="340.46" fill="#fff" opacity="0.72"/>
<rect x="355.75" y="282.4" width="0.75" height="340.46" fill="#fff" opacity="0.72"/>
<rect x="362.59" y="282.4" width="0.75" height="340.46" fill="#fff" opacity="0.72"/>
<rect x="369.44" y="282.4" width="0.75" height="340.46" fill="#fff" opacity="0.72"/>
<rect x="376.29" y="282.4" width="0.75" height="340.46" fill="#fff" opacity="0.72"/>
<rect x="383.14" y="282.4" width="0.75" height="340.46" fill="#fff" opacity="0.72"/>
<rect x="389.99" y="282.4" width="0.75" height="340.46" fill="#fff" opacity="0.72"/>
<rect x="396.84" y="282.4" width="0.75" height="340.46" fill="#fff" opacity="0.72"/>
<rect x="403.69" y="282.4" width="0.75" height="340.46" fill="#fff" opacity="0.72"/>
<rect x="410.53" y="282.4" width="0.75" height="340.46" fill="#fff" opacity="0.72"/>
<rect x="417.38" y="282.4" width="0.75" height="340.46" fill="#fff" opacity="0.72"/>
<rect x="424.23" y="282.4" width="0.75" height="340.46" fill="#fff" opacity="0.72"/>
<rect x="431.08" y="282.4" width="0.75" height="340.46" fill="#fff" opacity="0.72"/>
<rect x="437.93" y="282.4" width="0.75" height="340.46" fill="#fff" opacity="0.72"/>
<rect x="444.78" y="282.4" width="0.75" height="340.46" fill="#fff" opacity="0.72"/>
<rect x="0" y="295.81" width="452" height="0.65" fill="#fff" opacity="0.75"/>
<rect x="0" y="302.36" width="452" height="0.65" fill="#fff" opacity="0.75"/>
<rect x="0" y="316.42" width="452" height="0.65" fill="#fff" opacity="0.75"/>
<rect x="0" y="322.97" width="452" height="0.65" fill="#fff" opacity="0.75"/>
<rect x="0" y="329.52" width="452" height="0.65" fill="#fff" opacity="0.75"/>
<rect x="0" y="336.07" width="452" height="0.65" fill="#fff" opacity="0.75"/>
<rect x="0" y="342.62" width="452" height="0.65" fill="#fff" opacity="0.75"/>
<rect x="0" y="349.17" width="452" height="0.65" fill="#fff" opacity="0.75"/>
<rect x="0" y="370.74" width="452" height="0.65" fill="#fff" opacity="0.75"/>
<rect x="0" y="377.29" width="452" height="0.65" fill="#fff" opacity="0.75"/>
<rect x="0" y="391.35" width="452" height="0.65" fill="#fff" opacity="0.75"/>
<rect x="0" y="405.41" width="452" height="0.65" fill="#fff" opacity="0.75"/>
<rect x="0" y="411.96" width="452" height="0.65" fill="#fff" opacity="0.75"/>
<rect x="0" y="418.51" width="452" height="0.65" fill="#fff" opacity="0.75"/>
<rect x="0" y="440.08" width="452" height="0.65" fill="#fff" opacity="0.75"/>
<rect x="0" y="446.63" width="452" height="0.65" fill="#fff" opacity="0.75"/>
<rect x="0" y="453.18" width="452" height="0.65" fill="#fff" opacity="0.75"/>
<rect x="0" y="467.24" width="452" height="0.65" fill="#fff" opacity="0.75"/>
<rect x="0" y="488.81" width="452" height="0.65" fill="#fff" opacity="0.75"/>
<rect x="0" y="510.38" width="452" height="0.65" fill="#fff" opacity="0.75"/>
<rect x="0" y="546.97" width="452" height="0.65" fill="#fff" opacity="0.75"/>
<rect x="0" y="553.52" width="452" height="0.65" fill="#fff" opacity="0.75"/>
<rect x="0" y="560.07" width="452" height="0.65" fill="#fff" opacity="0.75"/>
<rect x="0" y="574.13" width="452" height="0.65" fill="#fff" opacity="0.75"/>
<rect x="0" y="580.68" width="452" height="0.65" fill="#fff" opacity="0.75"/>
<rect x="0" y="587.23" width="452" height="0.65" fill="#fff" opacity="0.75"/>
<rect x="0" y="593.78" width="452" height="0.65" fill="#fff" opacity="0.75"/>
<rect x="0" y="282" width="0.3" height="340.86" fill="#fff"/>
<line x1="452.8" y1="285.35" x2="454.6" y2="285.35" stroke="#444" stroke-width="0.5"/>
<text x="458" y="287.45" font-size="5.85" font-style="italic" fill="#111" stroke="#111" stroke-width="0.12">GOLGA8CP</text>
<line x1="452.8" y1="292.86" x2="454.6" y2="292.86" stroke="#444" stroke-width="0.5"/>
<text x="458" y="294.96" font-size="5.85" font-style="italic" fill="#111" stroke="#111" stroke-width="0.12">GOLGA8EP</text>
<line x1="452.8" y1="299.41" x2="454.6" y2="299.41" stroke="#444" stroke-width="0.5"/>
<text x="458" y="301.51" font-size="5.85" font-style="italic" fill="#111" stroke="#111" stroke-width="0.12">GOLGA6L22</text>
<line x1="452.8" y1="305.96" x2="454.6" y2="305.96" stroke="#444" stroke-width="0.5"/>
<text x="458" y="308.06" font-size="5.85" font-style="italic" fill="#111" stroke="#111" stroke-width="0.12">GOLGA8IP</text>
<line x1="452.8" y1="313.47" x2="454.6" y2="313.47" stroke="#444" stroke-width="0.5"/>
<text x="458" y="315.57" font-size="5.85" font-style="italic" fill="#111" stroke="#111" stroke-width="0.12">GOLGA6L1</text>
<line x1="452.8" y1="320.02" x2="454.6" y2="320.02" stroke="#444" stroke-width="0.5"/>
<text x="458" y="322.12" font-size="5.85" font-style="italic" fill="#111" stroke="#111" stroke-width="0.12">GOLGA8DP</text>
<line x1="452.8" y1="326.57" x2="454.6" y2="326.57" stroke="#444" stroke-width="0.5"/>
<text x="458" y="328.67" font-size="5.85" font-style="italic" fill="#111" stroke="#111" stroke-width="0.12">LOC124907502</text>
<line x1="452.8" y1="333.12" x2="454.6" y2="333.12" stroke="#444" stroke-width="0.5"/>
<text x="458" y="335.22" font-size="5.85" font-style="italic" fill="#111" stroke="#111" stroke-width="0.12">LOC124907507</text>
<line x1="452.8" y1="339.67" x2="454.6" y2="339.67" stroke="#444" stroke-width="0.5"/>
<text x="458" y="341.77" font-size="5.85" font-style="italic" fill="#111" stroke="#111" stroke-width="0.12">GOLGA6L26</text>
<line x1="452.8" y1="346.22" x2="454.6" y2="346.22" stroke="#444" stroke-width="0.5"/>
<text x="458" y="348.32" font-size="5.85" font-style="italic" fill="#111" stroke="#111" stroke-width="0.12">GOLGA8S</text>
<line x1="452.8" y1="352.77" x2="454.6" y2="352.77" stroke="#444" stroke-width="0.5"/>
<text x="458" y="354.87" font-size="5.85" font-style="italic" fill="#111" stroke="#111" stroke-width="0.12">GOLGA6L2</text>
<line x1="452.8" y1="360.28" x2="454.6" y2="360.28" stroke="#444" stroke-width="0.5"/>
<text x="458" y="362.38" font-size="5.85" font-style="italic" fill="#111" stroke="#111" stroke-width="0.12">GOLGA8F</text>
<line x1="452.8" y1="367.79" x2="454.6" y2="367.79" stroke="#444" stroke-width="0.5"/>
<text x="458" y="369.89" font-size="5.85" font-style="italic" fill="#111" stroke="#111" stroke-width="0.12">GOLGA8G</text>
<line x1="452.8" y1="374.34" x2="454.6" y2="374.34" stroke="#444" stroke-width="0.5"/>
<text x="458" y="376.44" font-size="5.85" font-style="italic" fill="#111" stroke="#111" stroke-width="0.12">GOLGA6L25</text>
<line x1="452.8" y1="380.89" x2="454.6" y2="380.89" stroke="#444" stroke-width="0.5"/>
<text x="458" y="382.99" font-size="5.85" font-style="italic" fill="#111" stroke="#111" stroke-width="0.12">GOLGA8M</text>
<line x1="452.8" y1="388.40" x2="454.6" y2="388.40" stroke="#444" stroke-width="0.5"/>
<text x="458" y="390.50" font-size="5.85" font-style="italic" fill="#111" stroke="#111" stroke-width="0.12">GOLGA8J</text>
<line x1="452.8" y1="394.95" x2="454.6" y2="394.95" stroke="#444" stroke-width="0.5"/>
<text x="458" y="397.05" font-size="5.85" font-style="italic" fill="#111" stroke="#111" stroke-width="0.12">GOLGA8T</text>
<line x1="452.8" y1="402.46" x2="454.6" y2="402.46" stroke="#444" stroke-width="0.5"/>
<text x="458" y="404.56" font-size="5.85" font-style="italic" fill="#111" stroke="#111" stroke-width="0.12">GOLGA8R</text>
<line x1="452.8" y1="409.01" x2="454.6" y2="409.01" stroke="#444" stroke-width="0.5"/>
<text x="458" y="411.11" font-size="5.85" font-style="italic" fill="#111" stroke="#111" stroke-width="0.12">inferred_GOLGA8M</text>
<line x1="452.8" y1="415.56" x2="454.6" y2="415.56" stroke="#444" stroke-width="0.5"/>
<text x="458" y="417.66" font-size="5.85" font-style="italic" fill="#111" stroke="#111" stroke-width="0.12">GOLGA8Q</text>
<line x1="452.8" y1="422.11" x2="454.6" y2="422.11" stroke="#444" stroke-width="0.5"/>
<text x="458" y="424.21" font-size="5.85" font-style="italic" fill="#111" stroke="#111" stroke-width="0.12">GOLGA8H</text>
<line x1="452.8" y1="429.62" x2="454.6" y2="429.62" stroke="#444" stroke-width="0.5"/>
<text x="458" y="431.72" font-size="5.85" font-style="italic" fill="#111" stroke="#111" stroke-width="0.12">LOC101930434</text>
<line x1="452.8" y1="437.13" x2="454.6" y2="437.13" stroke="#444" stroke-width="0.5"/>
<text x="458" y="439.23" font-size="5.85" font-style="italic" fill="#111" stroke="#111" stroke-width="0.12">GOLGA8K</text>
<line x1="452.8" y1="443.68" x2="454.6" y2="443.68" stroke="#444" stroke-width="0.5"/>
<text x="458" y="445.78" font-size="5.85" font-style="italic" fill="#111" stroke="#111" stroke-width="0.12">GOLGA8O</text>
<line x1="452.8" y1="450.23" x2="454.6" y2="450.23" stroke="#444" stroke-width="0.5"/>
<text x="458" y="452.33" font-size="5.85" font-style="italic" fill="#111" stroke="#111" stroke-width="0.12">LOC100883103</text>
<line x1="452.8" y1="456.78" x2="454.6" y2="456.78" stroke="#444" stroke-width="0.5"/>
<text x="458" y="458.88" font-size="5.85" font-style="italic" fill="#111" stroke="#111" stroke-width="0.12">GOLGA8N</text>
<line x1="452.8" y1="464.29" x2="454.6" y2="464.29" stroke="#444" stroke-width="0.5"/>
<text x="458" y="466.39" font-size="5.85" font-style="italic" fill="#111" stroke="#111" stroke-width="0.12">GOLGA8A</text>
<line x1="452.8" y1="470.84" x2="454.6" y2="470.84" stroke="#444" stroke-width="0.5"/>
<text x="458" y="472.94" font-size="5.85" font-style="italic" fill="#111" stroke="#111" stroke-width="0.12">GOLGA8B</text>
<line x1="452.8" y1="478.35" x2="454.6" y2="478.35" stroke="#444" stroke-width="0.5"/>
<text x="458" y="480.45" font-size="5.85" font-style="italic" fill="#111" stroke="#111" stroke-width="0.12">GOLGA2P<tspan dy="-1.8" font-size="4.6">11</tspan></text>
<line x1="452.8" y1="485.86" x2="454.6" y2="485.86" stroke="#444" stroke-width="0.5"/>
<text x="458" y="487.96" font-size="5.85" font-style="italic" fill="#111" stroke="#111" stroke-width="0.12">LOC646665</text>
<line x1="452.8" y1="492.41" x2="454.6" y2="492.41" stroke="#444" stroke-width="0.5"/>
<text x="458" y="494.51" font-size="5.85" font-style="italic" fill="#111" stroke="#111" stroke-width="0.12">GOLGA6B</text>
<line x1="452.8" y1="499.92" x2="454.6" y2="499.92" stroke="#444" stroke-width="0.5"/>
<text x="458" y="502.02" font-size="5.85" font-style="italic" fill="#111" stroke="#111" stroke-width="0.12">GOLGA6A</text>
<line x1="452.8" y1="507.43" x2="454.6" y2="507.43" stroke="#444" stroke-width="0.5"/>
<text x="458" y="509.53" font-size="5.85" font-style="italic" fill="#111" stroke="#111" stroke-width="0.12">GOLGA6C</text>
<line x1="452.8" y1="513.98" x2="454.6" y2="513.98" stroke="#444" stroke-width="0.5"/>
<text x="458" y="516.08" font-size="5.85" font-style="italic" fill="#111" stroke="#111" stroke-width="0.12">GOLGA6D</text>
<line x1="452.8" y1="521.49" x2="454.6" y2="521.49" stroke="#444" stroke-width="0.5"/>
<text x="458" y="523.59" font-size="5.85" font-style="italic" fill="#111" stroke="#111" stroke-width="0.12">GOLGA6EP</text>
<line x1="452.8" y1="529.00" x2="454.6" y2="529.00" stroke="#444" stroke-width="0.5"/>
<text x="458" y="531.10" font-size="5.85" font-style="italic" fill="#111" stroke="#111" stroke-width="0.12">GOLGA6FP</text>
<line x1="452.8" y1="536.51" x2="454.6" y2="536.51" stroke="#444" stroke-width="0.5"/>
<text x="458" y="538.61" font-size="5.85" font-style="italic" fill="#111" stroke="#111" stroke-width="0.12">LOC128966788</text>
<line x1="452.8" y1="544.02" x2="454.6" y2="544.02" stroke="#444" stroke-width="0.5"/>
<text x="458" y="546.12" font-size="5.85" font-style="italic" fill="#111" stroke="#111" stroke-width="0.12">GOLGA6L10</text>
<line x1="452.8" y1="550.57" x2="454.6" y2="550.57" stroke="#444" stroke-width="0.5"/>
<text x="458" y="552.67" font-size="5.85" font-style="italic" fill="#111" stroke="#111" stroke-width="0.12">GOLGA6L9</text>
<line x1="452.8" y1="557.12" x2="454.6" y2="557.12" stroke="#444" stroke-width="0.5"/>
<text x="458" y="559.22" font-size="5.85" font-style="italic" fill="#111" stroke="#111" stroke-width="0.12">GOLGA2P10</text>
<line x1="452.8" y1="563.67" x2="454.6" y2="563.67" stroke="#444" stroke-width="0.5"/>
<text x="458" y="565.77" font-size="5.85" font-style="italic" fill="#111" stroke="#111" stroke-width="0.12">GOLGA6L17P</text>
<line x1="452.8" y1="571.18" x2="454.6" y2="571.18" stroke="#444" stroke-width="0.5"/>
<text x="458" y="573.28" font-size="5.85" font-style="italic" fill="#111" stroke="#111" stroke-width="0.12">GOLGA2P7</text>
<line x1="452.8" y1="577.73" x2="454.6" y2="577.73" stroke="#444" stroke-width="0.5"/>
<text x="458" y="579.83" font-size="5.85" font-style="italic" fill="#111" stroke="#111" stroke-width="0.12">GOLGA6L4</text>
<line x1="452.8" y1="584.28" x2="454.6" y2="584.28" stroke="#444" stroke-width="0.5"/>
<text x="458" y="586.38" font-size="5.85" font-style="italic" fill="#111" stroke="#111" stroke-width="0.12">inferred_LOC100287925</text>
<line x1="452.8" y1="590.83" x2="454.6" y2="590.83" stroke="#444" stroke-width="0.5"/>
<text x="458" y="592.93" font-size="5.85" font-style="italic" fill="#111" stroke="#111" stroke-width="0.12">LOC102724117</text>
<line x1="452.8" y1="597.38" x2="454.6" y2="597.38" stroke="#444" stroke-width="0.5"/>
<text x="458" y="599.48" font-size="5.85" font-style="italic" fill="#111" stroke="#111" stroke-width="0.12">GOLGA6L5P</text>
<line x1="452.8" y1="604.89" x2="454.6" y2="604.89" stroke="#444" stroke-width="0.5"/>
<text x="458" y="606.99" font-size="5.85" font-style="italic" fill="#111" stroke="#111" stroke-width="0.12">GOLGA6L3P</text>
<line x1="452.8" y1="612.40" x2="454.6" y2="612.40" stroke="#444" stroke-width="0.5"/>
<text x="458" y="614.50" font-size="5.85" font-style="italic" fill="#111" stroke="#111" stroke-width="0.12">LOC390638</text>
<line x1="452.8" y1="619.91" x2="454.6" y2="619.91" stroke="#444" stroke-width="0.5"/>
<text x="458" y="622.01" font-size="5.85" font-style="italic" fill="#111" stroke="#111" stroke-width="0.12">GOLGA8VP</text>
<rect x="454.1" y="310.22" width="2" height="45.80" fill="#c00000"/>
<rect x="454.1" y="385.15" width="2" height="74.88" fill="#c00000"/>
<rect x="454.1" y="482.61" width="2" height="49.64" fill="#ee2a2a"/>
<rect x="454.1" y="560.42" width="2" height="40.21" fill="#c00000"/>
<text transform="translate(5.57,625) rotate(-90)" font-size="6.1" text-anchor="end" fill="#111" stroke="#111" stroke-width="0.18">HG01071_2</text>
<text transform="translate(12.42,625) rotate(-90)" font-size="6.1" text-anchor="end" fill="#111" stroke="#111" stroke-width="0.18">HG01071_1</text>
<text transform="translate(19.27,625) rotate(-90)" font-size="6.1" text-anchor="end" fill="#111" stroke="#111" stroke-width="0.18">HG01361_1</text>
<text transform="translate(26.12,625) rotate(-90)" font-size="6.1" text-anchor="end" fill="#111" stroke="#111" stroke-width="0.18">HG00741_2</text>
<text transform="translate(32.97,625) rotate(-90)" font-size="6.1" text-anchor="end" fill="#111" stroke="#111" stroke-width="0.18">HG02145_1</text>
<text transform="translate(39.82,625) rotate(-90)" font-size="6.1" text-anchor="end" fill="#111" stroke="#111" stroke-width="0.18">HG03248_2</text>
<text transform="translate(46.67,625) rotate(-90)" font-size="6.1" text-anchor="end" fill="#111" stroke="#111" stroke-width="0.18">HG01457_2</text>
<text transform="translate(53.51,625) rotate(-90)" font-size="6.1" text-anchor="end" fill="#111" stroke="#111" stroke-width="0.18">HG00673_2</text>
<text transform="translate(60.36,625) rotate(-90)" font-size="6.1" text-anchor="end" fill="#111" stroke="#111" stroke-width="0.18">HG02018_2</text>
<text transform="translate(67.21,625) rotate(-90)" font-size="6.1" text-anchor="end" fill="#111" stroke="#111" stroke-width="0.18">HG04217_2</text>
<text transform="translate(74.06,625) rotate(-90)" font-size="6.1" text-anchor="end" fill="#111" stroke="#111" stroke-width="0.18">HG00621_1</text>
<text transform="translate(80.91,625) rotate(-90)" font-size="6.1" text-anchor="end" fill="#111" stroke="#111" stroke-width="0.18">HG02717_1</text>
<text transform="translate(87.76,625) rotate(-90)" font-size="6.1" text-anchor="end" fill="#111" stroke="#111" stroke-width="0.18">HG02559_1</text>
<text transform="translate(94.60,625) rotate(-90)" font-size="6.1" text-anchor="end" fill="#111" stroke="#111" stroke-width="0.18">HG03579_2</text>
<text transform="translate(101.45,625) rotate(-90)" font-size="6.1" text-anchor="end" fill="#111" stroke="#111" stroke-width="0.18">HG02055_1</text>
<text transform="translate(108.30,625) rotate(-90)" font-size="6.1" text-anchor="end" fill="#111" stroke="#111" stroke-width="0.18">HG01952_2</text>
<text transform="translate(115.15,625) rotate(-90)" font-size="6.1" text-anchor="end" fill="#111" stroke="#111" stroke-width="0.18">HG03486_2</text>
<text transform="translate(122.00,625) rotate(-90)" font-size="6.1" text-anchor="end" fill="#111" stroke="#111" stroke-width="0.18">HG002_2</text>
<text transform="translate(128.85,625) rotate(-90)" font-size="6.1" text-anchor="end" fill="#111" stroke="#111" stroke-width="0.18">HG01123_2</text>
<text transform="translate(135.70,625) rotate(-90)" font-size="6.1" text-anchor="end" fill="#111" stroke="#111" stroke-width="0.18">HG01361_2</text>
<text transform="translate(142.54,625) rotate(-90)" font-size="6.1" text-anchor="end" fill="#111" stroke="#111" stroke-width="0.18">HG03486_2</text>
<text transform="translate(149.39,625) rotate(-90)" font-size="6.1" text-anchor="end" fill="#111" stroke="#111" stroke-width="0.18">HG01175_1</text>
<text transform="translate(156.24,625) rotate(-90)" font-size="6.1" text-anchor="end" fill="#111" stroke="#111" stroke-width="0.18">HG03540_2</text>
<text transform="translate(163.09,625) rotate(-90)" font-size="6.1" text-anchor="end" fill="#111" stroke="#111" stroke-width="0.18">HG03453_2</text>
<text transform="translate(169.94,625) rotate(-90)" font-size="6.1" text-anchor="end" fill="#111" stroke="#111" stroke-width="0.18">HG02148_1</text>
<text transform="translate(176.79,625) rotate(-90)" font-size="6.1" text-anchor="end" fill="#111" stroke="#111" stroke-width="0.18">HG02059_2</text>
<text transform="translate(183.63,625) rotate(-90)" font-size="6.1" text-anchor="end" fill="#111" stroke="#111" stroke-width="0.18">HG02630_2</text>
<text transform="translate(190.48,625) rotate(-90)" font-size="6.1" text-anchor="end" fill="#111" stroke="#111" stroke-width="0.18">HG03579_1</text>
<text transform="translate(197.33,625) rotate(-90)" font-size="6.1" text-anchor="end" fill="#111" stroke="#111" stroke-width="0.18">HG02257_1</text>
<text transform="translate(204.18,625) rotate(-90)" font-size="6.1" text-anchor="end" fill="#111" stroke="#111" stroke-width="0.18">HG03492_2</text>
<text transform="translate(211.03,625) rotate(-90)" font-size="6.1" text-anchor="end" fill="#111" stroke="#111" stroke-width="0.18">HG02055_2</text>
<text transform="translate(217.88,625) rotate(-90)" font-size="6.1" text-anchor="end" fill="#111" stroke="#111" stroke-width="0.18">HG00735_2</text>
<text transform="translate(224.73,625) rotate(-90)" font-size="6.1" text-anchor="end" fill="#111" stroke="#111" stroke-width="0.18">HG03807_1</text>
<text transform="translate(231.57,625) rotate(-90)" font-size="6.1" text-anchor="end" fill="#111" stroke="#111" stroke-width="0.18">HG01175_2</text>
<text transform="translate(238.42,625) rotate(-90)" font-size="6.1" text-anchor="end" fill="#111" stroke="#111" stroke-width="0.18">HG02818_2</text>
<text transform="translate(245.27,625) rotate(-90)" font-size="6.1" text-anchor="end" fill="#111" stroke="#111" stroke-width="0.18">HG03248_1</text>
<text transform="translate(252.12,625) rotate(-90)" font-size="6.1" text-anchor="end" fill="#111" stroke="#111" stroke-width="0.18">HG01258_1</text>
<text transform="translate(258.97,625) rotate(-90)" font-size="6.1" text-anchor="end" fill="#111" stroke="#111" stroke-width="0.18">NA18906_2</text>
<text transform="translate(265.82,625) rotate(-90)" font-size="6.1" text-anchor="end" fill="#111" stroke="#111" stroke-width="0.18">HG00438_1</text>
<text transform="translate(272.67,625) rotate(-90)" font-size="6.1" text-anchor="end" fill="#111" stroke="#111" stroke-width="0.18">HG00621_2</text>
<text transform="translate(279.51,625) rotate(-90)" font-size="6.1" text-anchor="end" fill="#111" stroke="#111" stroke-width="0.18">HG00438_2</text>
<text transform="translate(286.36,625) rotate(-90)" font-size="6.1" text-anchor="end" fill="#111" stroke="#111" stroke-width="0.18">HG02572_2</text>
<text transform="translate(293.21,625) rotate(-90)" font-size="6.1" text-anchor="end" fill="#111" stroke="#111" stroke-width="0.18">HG01358_1</text>
<text transform="translate(300.06,625) rotate(-90)" font-size="6.1" text-anchor="end" fill="#111" stroke="#111" stroke-width="0.18">NA20129_1</text>
<text transform="translate(306.91,625) rotate(-90)" font-size="6.1" text-anchor="end" fill="#111" stroke="#111" stroke-width="0.18">HG02886_1</text>
<text transform="translate(313.76,625) rotate(-90)" font-size="6.1" text-anchor="end" fill="#111" stroke="#111" stroke-width="0.18">HG03098_1</text>
<text transform="translate(320.60,625) rotate(-90)" font-size="6.1" text-anchor="end" fill="#111" stroke="#111" stroke-width="0.18">HG02818_1</text>
<text transform="translate(327.45,625) rotate(-90)" font-size="6.1" text-anchor="end" fill="#111" stroke="#111" stroke-width="0.18">HG02145_2</text>
<text transform="translate(334.30,625) rotate(-90)" font-size="6.1" text-anchor="end" fill="#111" stroke="#111" stroke-width="0.18">NA18906_1</text>
<text transform="translate(341.15,625) rotate(-90)" font-size="6.1" text-anchor="end" fill="#111" stroke="#111" stroke-width="0.18">HG01952_1</text>
<text transform="translate(348.00,625) rotate(-90)" font-size="6.1" text-anchor="end" fill="#111" stroke="#111" stroke-width="0.18">HG00735_1</text>
<text transform="translate(354.85,625) rotate(-90)" font-size="6.1" text-anchor="end" fill="#111" stroke="#111" stroke-width="0.18">HG01928_2</text>
<text transform="translate(361.70,625) rotate(-90)" font-size="6.1" text-anchor="end" fill="#111" stroke="#111" stroke-width="0.18">HG01928_1</text>
<text transform="translate(368.54,625) rotate(-90)" font-size="6.1" text-anchor="end" fill="#111" stroke="#111" stroke-width="0.18">HG03486_1</text>
<text transform="translate(375.39,625) rotate(-90)" font-size="6.1" text-anchor="end" fill="#111" stroke="#111" stroke-width="0.18">HG02148_2</text>
<text transform="translate(382.24,625) rotate(-90)" font-size="6.1" text-anchor="end" fill="#111" stroke="#111" stroke-width="0.18">HG03080_1</text>
<text transform="translate(389.09,625) rotate(-90)" font-size="6.1" text-anchor="end" fill="#111" stroke="#111" stroke-width="0.18">HG01106_1</text>
<text transform="translate(395.94,625) rotate(-90)" font-size="6.1" text-anchor="end" fill="#111" stroke="#111" stroke-width="0.18">HG01978_2</text>
<text transform="translate(402.79,625) rotate(-90)" font-size="6.1" text-anchor="end" fill="#111" stroke="#111" stroke-width="0.18">HG03456_1</text>
<text transform="translate(409.63,625) rotate(-90)" font-size="6.1" text-anchor="end" fill="#111" stroke="#111" stroke-width="0.18">HG03540_1</text>
<text transform="translate(416.48,625) rotate(-90)" font-size="6.1" text-anchor="end" fill="#111" stroke="#111" stroke-width="0.18">HG01978_1</text>
<text transform="translate(423.33,625) rotate(-90)" font-size="6.1" text-anchor="end" fill="#111" stroke="#111" stroke-width="0.18">HG01106_2</text>
<text transform="translate(430.18,625) rotate(-90)" font-size="6.1" text-anchor="end" fill="#111" stroke="#111" stroke-width="0.18">HG01358_2</text>
<text transform="translate(437.03,625) rotate(-90)" font-size="6.1" text-anchor="end" fill="#111" stroke="#111" stroke-width="0.18">HG02630_1</text>
<text transform="translate(443.88,625) rotate(-90)" font-size="6.1" text-anchor="end" fill="#111" stroke="#111" stroke-width="0.18">HG02559_2</text>
<text transform="translate(450.73,625) rotate(-90)" font-size="6.1" text-anchor="end" fill="#111" stroke="#111" stroke-width="0.18">HG02572_1</text>
<defs><clipPath id="chr"><path d="M549.6 339 L549.6 621.3 A15 11.5 0 0 0 579.6 621.3 L579.6 339 Z"/></clipPath></defs>
<rect x="534.9" y="342.7" width="51.6" height="20.2" fill="#ee3535"/>
<rect x="534.9" y="342.7" width="51.6" height="3.5" fill="#d81f1f"/>
<rect x="534.9" y="371.9" width="51.6" height="6.4" fill="#c00000"/>
<rect x="534.9" y="525.2" width="51.6" height="20.4" fill="#ee3535"/>
<rect x="534.9" y="562.6" width="51.6" height="5.8" fill="#c00000"/>
<g clip-path="url(#chr)">
<rect x="549.3" y="339.00" width="31" height="43.60" fill="#d6d7d9"/>
<rect x="549.3" y="382.30" width="31" height="24.70" fill="#97989c"/>
<rect x="549.3" y="406.70" width="31" height="17.30" fill="#d6d7d9"/>
<rect x="549.3" y="423.70" width="31" height="48.30" fill="#97989c"/>
<rect x="549.3" y="471.70" width="31" height="21.10" fill="#d6d7d9"/>
<rect x="549.3" y="492.50" width="31" height="11.40" fill="#f0f1f1"/>
<rect x="549.3" y="503.60" width="31" height="43.10" fill="#d6d7d9"/>
<rect x="549.3" y="546.40" width="31" height="12.30" fill="#97989c"/>
<rect x="549.3" y="558.40" width="31" height="9.80" fill="#d6d7d9"/>
<rect x="549.3" y="567.90" width="31" height="16.10" fill="#97989c"/>
<rect x="549.3" y="583.70" width="31" height="17.30" fill="#f0f1f1"/>
<rect x="549.3" y="600.70" width="31" height="16.20" fill="#97989c"/>
<rect x="549.3" y="616.60" width="31" height="17.70" fill="#f0f1f1"/>
</g>
<path d="M549.6 315.2 L549.6 280 A15 11.4 0 0 1 579.6 280 L579.6 315.2 Z" fill="#c9d7f1"/>
<path d="M549.6 315 L579.6 315 L564.6 329.5 Z" fill="#8d3233"/>
<path d="M564.6 329.5 L579.6 339.3 L549.6 339.3 Z" fill="#8d3233"/>
<path d="M549.6 315.2 L549.6 280 A15 11.4 0 0 1 579.6 280 L579.6 315.2 L564.6 329.5 L579.6 339.3 L579.6 621.3 A15 11.5 0 0 1 549.6 621.3 L549.6 339.3 L564.6 329.5 Z" fill="none" stroke="#1a1a1a" stroke-width="1.5" stroke-linejoin="round"/>
<text x="564.6" y="299.8" font-size="8.3" text-anchor="middle" fill="#1a1a1a">chr15</text>
<text x="564.6" y="347.0" font-size="7.5" text-anchor="middle" fill="#1a1a1a">BP1-2</text>
<text x="564.6" y="359.2" font-size="7.5" text-anchor="middle" fill="#1a1a1a">BP2-3</text>
<text x="564.6" y="377.0" font-size="7.5" text-anchor="middle" fill="#1a1a1a">BP4-5</text>
<text x="563.8" y="537.2" font-size="9.0" text-anchor="middle" fill="#1a1a1a">q24</text>
<text x="563.8" y="566.8" font-size="9.0" text-anchor="middle" fill="#1a1a1a">q25</text>
<rect x="590.6" y="302.7" width="2.8" height="15.9" fill="#c00000"/>
<text x="596.8" y="308.8" font-size="9.2" fill="#1a1a1a">Microduplication or</text>
<text x="596.8" y="318.1" font-size="9.2" fill="#1a1a1a">deletion syndromes</text>
<text x="627.8" y="333" font-size="9" text-anchor="middle" fill="#1a1a1a">q11–q13</text>
<line x1="611" y1="336.2" x2="644.8" y2="336.2" stroke="#222" stroke-width="0.6"/>
<line x1="589.2" y1="344.5" x2="591.4" y2="344.5" stroke="#222" stroke-width="0.7"/>
<text x="594" y="347.3" font-size="8.7" fill="#1a1a1a">Prader–Willi, Angelman</text>
<line x1="589.2" y1="356.1" x2="591.4" y2="356.1" stroke="#222" stroke-width="0.7"/>
<text x="594" y="358.9" font-size="8.7" fill="#1a1a1a">ASD, DD</text>
<line x1="589.2" y1="372.8" x2="591.4" y2="372.8" stroke="#222" stroke-width="0.7"/>
<text x="594" y="375.6" font-size="8.7" fill="#1a1a1a">ASD, DD,</text>
<text x="594" y="384.8" font-size="8.7" fill="#1a1a1a">SCZ, epilepsy</text>
<text x="604.7" y="538.2" font-size="8.4" fill="#1a1a1a">ID, DD, ASD</text>
<text x="604.7" y="568.4" font-size="8.4" fill="#1a1a1a">ID, DD, ASD</text>
<line x1="534.6" y1="335.5" x2="545.8" y2="335.5" stroke="#111" stroke-width="0.6"/>
<line x1="534.6" y1="341.5" x2="545.8" y2="341.5" stroke="#111" stroke-width="0.9"/>
<line x1="534.6" y1="344.7" x2="545.8" y2="344.7" stroke="#000" stroke-width="2.8"/>
<line x1="534.6" y1="364.1" x2="545.8" y2="364.1" stroke="#000" stroke-width="2.0"/>
<line x1="534.6" y1="371.4" x2="545.8" y2="371.4" stroke="#000" stroke-width="2.2"/>
<line x1="534.6" y1="378.2" x2="545.8" y2="378.2" stroke="#000" stroke-width="1.1"/>
<line x1="534.6" y1="385.9" x2="545.8" y2="385.9" stroke="#111" stroke-width="1.4"/>
<line x1="534.6" y1="487.4" x2="545.8" y2="487.4" stroke="#222" stroke-width="0.7"/>
<line x1="534.6" y1="526.0" x2="545.8" y2="526.0" stroke="#1a0505" stroke-width="1.3"/>
<line x1="534.6" y1="531.2" x2="545.8" y2="531.2" stroke="#5a0d0d" stroke-width="1.0"/>
<line x1="534.6" y1="535.5" x2="545.8" y2="535.5" stroke="#5a0d0d" stroke-width="1.0"/>
<line x1="534.6" y1="537.3" x2="545.8" y2="537.3" stroke="#5a0d0d" stroke-width="1.0"/>
<line x1="534.6" y1="545.4" x2="545.8" y2="545.4" stroke="#200" stroke-width="0.8"/>
<line x1="534.6" y1="548.2" x2="545.8" y2="548.2" stroke="#222" stroke-width="0.8"/>
<line x1="534.6" y1="562.5" x2="545.8" y2="562.5" stroke="#100" stroke-width="1.1"/>
<line x1="534.6" y1="568.8" x2="545.8" y2="568.8" stroke="#200" stroke-width="0.7"/>
<line x1="534.6" y1="571.4" x2="545.8" y2="571.4" stroke="#222" stroke-width="0.8"/>
<line x1="534.6" y1="593.1" x2="545.8" y2="593.1" stroke="#222" stroke-width="0.7"/>
<line x1="534.6" y1="632.7" x2="545.8" y2="632.7" stroke="#444" stroke-width="0.8"/>
<line x1="489.8" y1="285.35" x2="534.6" y2="335.6" stroke="#555" stroke-width="0.4"/>
<line x1="492.4" y1="299.41" x2="534.6" y2="341.3" stroke="#555" stroke-width="0.4"/>
<line x1="499.6" y1="333.12" x2="534.6" y2="345.0" stroke="#555" stroke-width="0.4"/>
<line x1="485.7" y1="360.28" x2="534.6" y2="363.0" stroke="#555" stroke-width="0.4"/>
<line x1="492.0" y1="374.34" x2="534.6" y2="365.0" stroke="#555" stroke-width="0.4"/>
<line x1="484.4" y1="388.40" x2="534.6" y2="370.7" stroke="#555" stroke-width="0.4"/>
<line x1="487.0" y1="402.46" x2="534.6" y2="371.4" stroke="#555" stroke-width="0.4"/>
<line x1="487.0" y1="424.31" x2="534.6" y2="372.8" stroke="#555" stroke-width="0.4"/>
<line x1="486.7" y1="443.68" x2="534.6" y2="376.0" stroke="#555" stroke-width="0.4"/>
<line x1="486.7" y1="464.29" x2="534.6" y2="386.0" stroke="#555" stroke-width="0.4"/>
<line x1="492.5" y1="478.35" x2="534.6" y2="487.4" stroke="#555" stroke-width="0.4"/>
<line x1="487.0" y1="489.11" x2="534.6" y2="526.0" stroke="#555" stroke-width="0.4"/>
<line x1="486.2" y1="499.92" x2="534.6" y2="529.5" stroke="#555" stroke-width="0.4"/>
<line x1="486.5" y1="507.43" x2="534.6" y2="534.9" stroke="#555" stroke-width="0.4"/>
<line x1="488.9" y1="521.49" x2="534.6" y2="537.0" stroke="#555" stroke-width="0.4"/>
<line x1="488.9" y1="529.00" x2="534.6" y2="545.4" stroke="#555" stroke-width="0.4"/>
<line x1="500.5" y1="536.51" x2="534.6" y2="548.2" stroke="#555" stroke-width="0.4"/>
<line x1="488.9" y1="550.57" x2="534.6" y2="562.5" stroke="#555" stroke-width="0.4"/>
<line x1="488.9" y1="577.73" x2="534.6" y2="568.8" stroke="#555" stroke-width="0.4"/>
<line x1="491.5" y1="604.89" x2="534.6" y2="571.4" stroke="#555" stroke-width="0.4"/>
<line x1="491.5" y1="612.40" x2="534.6" y2="593.1" stroke="#555" stroke-width="0.4"/>
<line x1="488.9" y1="619.91" x2="534.6" y2="632.7" stroke="#555" stroke-width="0.4"/>
</svg>
</body></html>
